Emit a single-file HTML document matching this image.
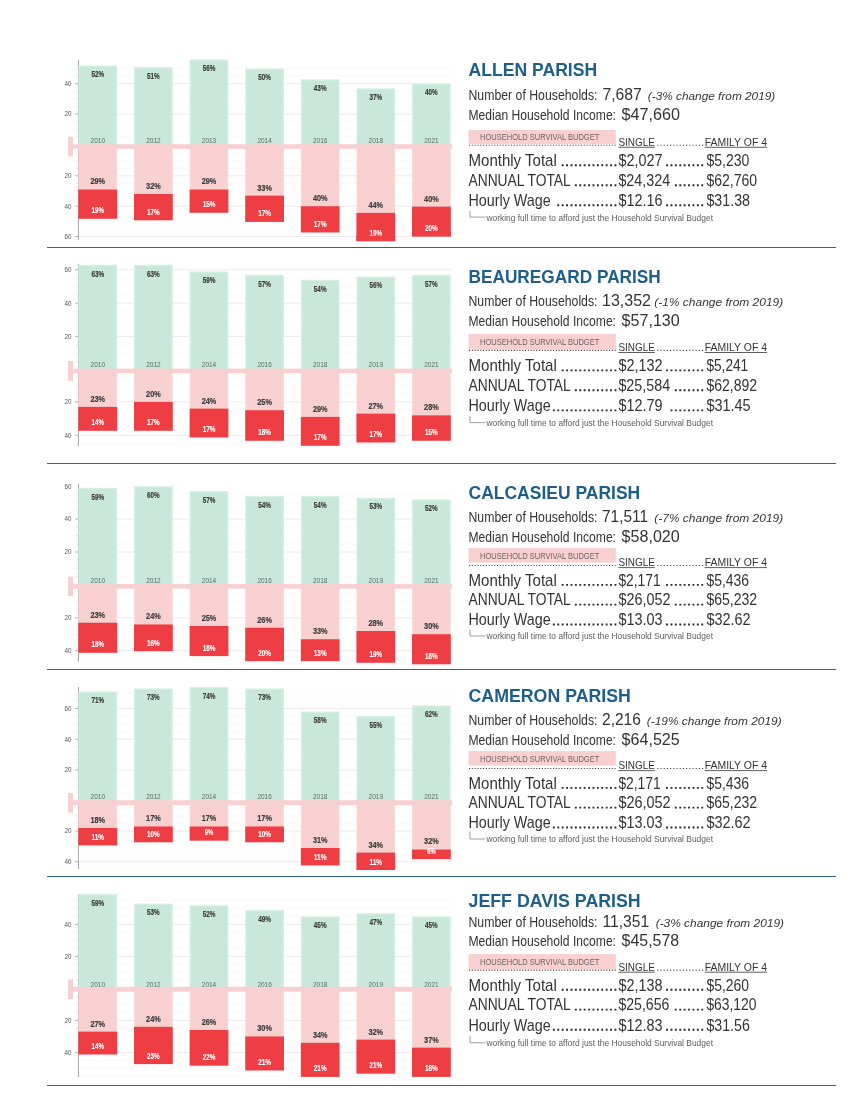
<!DOCTYPE html>
<html><head><meta charset="utf-8"><title>Parish data</title>
<style>
html,body{margin:0;padding:0;background:#fff;}
svg{display:block;font-family:"Liberation Sans",sans-serif;will-change:transform;}
</style></head><body>
<svg width="850" height="1100" viewBox="0 0 850 1100">
<rect width="850" height="1100" fill="#ffffff"/>
<g><clipPath id="c0"><rect x="60" y="58" width="400" height="188"/></clipPath>
<line x1="82.0" y1="136.8" x2="452.0" y2="136.8" stroke="#ececec" stroke-width="1" stroke-dasharray="1 3"/>
<line x1="76.5" y1="136.8" x2="78.0" y2="136.8" stroke="#e0e0e0" stroke-width="1"/>
<line x1="82.0" y1="129.2" x2="452.0" y2="129.2" stroke="#ececec" stroke-width="1" stroke-dasharray="1 3"/>
<line x1="76.5" y1="129.2" x2="78.0" y2="129.2" stroke="#e0e0e0" stroke-width="1"/>
<line x1="82.0" y1="121.6" x2="452.0" y2="121.6" stroke="#ececec" stroke-width="1" stroke-dasharray="1 3"/>
<line x1="76.5" y1="121.6" x2="78.0" y2="121.6" stroke="#e0e0e0" stroke-width="1"/>
<line x1="79.0" y1="114.1" x2="452.0" y2="114.1" stroke="#ececec" stroke-width="1"/>
<line x1="75.0" y1="114.1" x2="78.0" y2="114.1" stroke="#b5b5b5" stroke-width="1"/>
<line x1="82.0" y1="106.5" x2="452.0" y2="106.5" stroke="#ececec" stroke-width="1" stroke-dasharray="1 3"/>
<line x1="76.5" y1="106.5" x2="78.0" y2="106.5" stroke="#e0e0e0" stroke-width="1"/>
<line x1="76.5" y1="98.9" x2="78.0" y2="98.9" stroke="#e0e0e0" stroke-width="1"/>
<line x1="82.0" y1="91.3" x2="452.0" y2="91.3" stroke="#ececec" stroke-width="1" stroke-dasharray="1 3"/>
<line x1="76.5" y1="91.3" x2="78.0" y2="91.3" stroke="#e0e0e0" stroke-width="1"/>
<line x1="79.0" y1="83.7" x2="452.0" y2="83.7" stroke="#ececec" stroke-width="1"/>
<line x1="75.0" y1="83.7" x2="78.0" y2="83.7" stroke="#b5b5b5" stroke-width="1"/>
<line x1="82.0" y1="76.1" x2="452.0" y2="76.1" stroke="#ececec" stroke-width="1" stroke-dasharray="1 3"/>
<line x1="76.5" y1="76.1" x2="78.0" y2="76.1" stroke="#e0e0e0" stroke-width="1"/>
<line x1="82.0" y1="68.5" x2="452.0" y2="68.5" stroke="#ececec" stroke-width="1" stroke-dasharray="1 3"/>
<line x1="76.5" y1="68.5" x2="78.0" y2="68.5" stroke="#e0e0e0" stroke-width="1"/>
<line x1="82.0" y1="153.1" x2="452.0" y2="153.1" stroke="#ececec" stroke-width="1" stroke-dasharray="1 3"/>
<line x1="76.5" y1="153.1" x2="78.0" y2="153.1" stroke="#e0e0e0" stroke-width="1"/>
<line x1="82.0" y1="160.7" x2="452.0" y2="160.7" stroke="#ececec" stroke-width="1" stroke-dasharray="1 3"/>
<line x1="76.5" y1="160.7" x2="78.0" y2="160.7" stroke="#e0e0e0" stroke-width="1"/>
<line x1="82.0" y1="168.3" x2="452.0" y2="168.3" stroke="#ececec" stroke-width="1" stroke-dasharray="1 3"/>
<line x1="76.5" y1="168.3" x2="78.0" y2="168.3" stroke="#e0e0e0" stroke-width="1"/>
<line x1="79.0" y1="175.8" x2="452.0" y2="175.8" stroke="#ececec" stroke-width="1"/>
<line x1="75.0" y1="175.8" x2="78.0" y2="175.8" stroke="#b5b5b5" stroke-width="1"/>
<line x1="82.0" y1="183.4" x2="452.0" y2="183.4" stroke="#ececec" stroke-width="1" stroke-dasharray="1 3"/>
<line x1="76.5" y1="183.4" x2="78.0" y2="183.4" stroke="#e0e0e0" stroke-width="1"/>
<line x1="76.5" y1="191.0" x2="78.0" y2="191.0" stroke="#e0e0e0" stroke-width="1"/>
<line x1="82.0" y1="198.6" x2="452.0" y2="198.6" stroke="#ececec" stroke-width="1" stroke-dasharray="1 3"/>
<line x1="76.5" y1="198.6" x2="78.0" y2="198.6" stroke="#e0e0e0" stroke-width="1"/>
<line x1="79.0" y1="206.2" x2="452.0" y2="206.2" stroke="#ececec" stroke-width="1"/>
<line x1="75.0" y1="206.2" x2="78.0" y2="206.2" stroke="#b5b5b5" stroke-width="1"/>
<line x1="82.0" y1="213.8" x2="452.0" y2="213.8" stroke="#ececec" stroke-width="1" stroke-dasharray="1 3"/>
<line x1="76.5" y1="213.8" x2="78.0" y2="213.8" stroke="#e0e0e0" stroke-width="1"/>
<line x1="82.0" y1="221.3" x2="452.0" y2="221.3" stroke="#ececec" stroke-width="1" stroke-dasharray="1 3"/>
<line x1="76.5" y1="221.3" x2="78.0" y2="221.3" stroke="#e0e0e0" stroke-width="1"/>
<line x1="82.0" y1="228.9" x2="452.0" y2="228.9" stroke="#ececec" stroke-width="1" stroke-dasharray="1 3"/>
<line x1="76.5" y1="228.9" x2="78.0" y2="228.9" stroke="#e0e0e0" stroke-width="1"/>
<line x1="79.0" y1="236.5" x2="452.0" y2="236.5" stroke="#ececec" stroke-width="1"/>
<line x1="75.0" y1="236.5" x2="78.0" y2="236.5" stroke="#b5b5b5" stroke-width="1"/>
<line x1="78.5" y1="60.0" x2="78.5" y2="240.0" stroke="#a8a8a8" stroke-width="1"/>
<g clip-path="url(#c0)">
<rect x="78.4" y="65.5" width="38.8" height="80.7" fill="#d4f0e5"/>
<rect x="79.7" y="66.8" width="36.2" height="79.7" fill="#c9e7db"/>
<rect x="78.4" y="145.2" width="38.8" height="44.3" fill="#fad9d9"/>
<rect x="79.6" y="145.2" width="36.4" height="44.3" fill="#f8d0d0"/>
<rect x="78.4" y="189.5" width="38.8" height="29.3" fill="#ee3e44"/>
<text x="97.8" y="77.2" font-size="8.4" fill="#3c3c3c" font-weight="bold" text-anchor="middle" textLength="12.7" lengthAdjust="spacingAndGlyphs" stroke="#3c3c3c" stroke-width="0.2">52%</text>
<text x="97.8" y="184.4" font-size="9.1" fill="#3c3c3c" font-weight="bold" text-anchor="middle" textLength="14.6" lengthAdjust="spacingAndGlyphs" stroke="#3c3c3c" stroke-width="0.2">29%</text>
<text x="97.8" y="213.3" font-size="8.4" fill="#ffffff" font-weight="bold" text-anchor="middle" textLength="12.7" lengthAdjust="spacingAndGlyphs" stroke="#ffffff" stroke-width="0.12">19%</text>
<text x="97.8" y="143.4" font-size="7" fill="#5a6a64" text-anchor="middle" textLength="14.4" lengthAdjust="spacingAndGlyphs">2010</text>
<rect x="134.0" y="67.0" width="38.8" height="79.2" fill="#d4f0e5"/>
<rect x="135.3" y="68.3" width="36.2" height="78.2" fill="#c9e7db"/>
<rect x="134.0" y="145.2" width="38.8" height="48.8" fill="#fad9d9"/>
<rect x="135.2" y="145.2" width="36.4" height="48.8" fill="#f8d0d0"/>
<rect x="134.0" y="194.0" width="38.8" height="26.3" fill="#ee3e44"/>
<text x="153.4" y="78.7" font-size="8.4" fill="#3c3c3c" font-weight="bold" text-anchor="middle" textLength="12.7" lengthAdjust="spacingAndGlyphs" stroke="#3c3c3c" stroke-width="0.2">51%</text>
<text x="153.4" y="188.9" font-size="9.1" fill="#3c3c3c" font-weight="bold" text-anchor="middle" textLength="14.6" lengthAdjust="spacingAndGlyphs" stroke="#3c3c3c" stroke-width="0.2">32%</text>
<text x="153.4" y="214.8" font-size="8.4" fill="#ffffff" font-weight="bold" text-anchor="middle" textLength="12.7" lengthAdjust="spacingAndGlyphs" stroke="#ffffff" stroke-width="0.12">17%</text>
<text x="153.4" y="143.4" font-size="7" fill="#5a6a64" text-anchor="middle" textLength="14.4" lengthAdjust="spacingAndGlyphs">2012</text>
<rect x="189.6" y="59.4" width="38.8" height="86.8" fill="#d4f0e5"/>
<rect x="190.9" y="60.7" width="36.2" height="85.8" fill="#c9e7db"/>
<rect x="189.6" y="145.2" width="38.8" height="44.3" fill="#fad9d9"/>
<rect x="190.8" y="145.2" width="36.4" height="44.3" fill="#f8d0d0"/>
<rect x="189.6" y="189.5" width="38.8" height="23.3" fill="#ee3e44"/>
<text x="209.0" y="71.1" font-size="8.4" fill="#3c3c3c" font-weight="bold" text-anchor="middle" textLength="12.7" lengthAdjust="spacingAndGlyphs" stroke="#3c3c3c" stroke-width="0.2">56%</text>
<text x="209.0" y="184.4" font-size="9.1" fill="#3c3c3c" font-weight="bold" text-anchor="middle" textLength="14.6" lengthAdjust="spacingAndGlyphs" stroke="#3c3c3c" stroke-width="0.2">29%</text>
<text x="209.0" y="207.2" font-size="8.4" fill="#ffffff" font-weight="bold" text-anchor="middle" textLength="12.7" lengthAdjust="spacingAndGlyphs" stroke="#ffffff" stroke-width="0.12">15%</text>
<text x="209.0" y="143.4" font-size="7" fill="#5a6a64" text-anchor="middle" textLength="14.4" lengthAdjust="spacingAndGlyphs">2013</text>
<rect x="245.2" y="68.5" width="38.8" height="77.6" fill="#d4f0e5"/>
<rect x="246.5" y="69.8" width="36.2" height="76.6" fill="#c9e7db"/>
<rect x="245.2" y="145.2" width="38.8" height="50.4" fill="#fad9d9"/>
<rect x="246.4" y="145.2" width="36.4" height="50.4" fill="#f8d0d0"/>
<rect x="245.2" y="195.6" width="38.8" height="26.3" fill="#ee3e44"/>
<text x="264.6" y="80.2" font-size="8.4" fill="#3c3c3c" font-weight="bold" text-anchor="middle" textLength="12.7" lengthAdjust="spacingAndGlyphs" stroke="#3c3c3c" stroke-width="0.2">50%</text>
<text x="264.6" y="190.5" font-size="9.1" fill="#3c3c3c" font-weight="bold" text-anchor="middle" textLength="14.6" lengthAdjust="spacingAndGlyphs" stroke="#3c3c3c" stroke-width="0.2">33%</text>
<text x="264.6" y="216.3" font-size="8.4" fill="#ffffff" font-weight="bold" text-anchor="middle" textLength="12.7" lengthAdjust="spacingAndGlyphs" stroke="#ffffff" stroke-width="0.12">17%</text>
<text x="264.6" y="143.4" font-size="7" fill="#5a6a64" text-anchor="middle" textLength="14.4" lengthAdjust="spacingAndGlyphs">2014</text>
<rect x="300.8" y="79.2" width="38.8" height="67.0" fill="#d4f0e5"/>
<rect x="302.1" y="80.5" width="36.2" height="66.0" fill="#c9e7db"/>
<rect x="300.8" y="145.2" width="38.8" height="61.0" fill="#fad9d9"/>
<rect x="302.0" y="145.2" width="36.4" height="61.0" fill="#f8d0d0"/>
<rect x="300.8" y="206.2" width="38.8" height="26.3" fill="#ee3e44"/>
<text x="320.2" y="90.9" font-size="8.4" fill="#3c3c3c" font-weight="bold" text-anchor="middle" textLength="12.7" lengthAdjust="spacingAndGlyphs" stroke="#3c3c3c" stroke-width="0.2">43%</text>
<text x="320.2" y="201.1" font-size="9.1" fill="#3c3c3c" font-weight="bold" text-anchor="middle" textLength="14.6" lengthAdjust="spacingAndGlyphs" stroke="#3c3c3c" stroke-width="0.2">40%</text>
<text x="320.2" y="227.0" font-size="8.4" fill="#ffffff" font-weight="bold" text-anchor="middle" textLength="12.7" lengthAdjust="spacingAndGlyphs" stroke="#ffffff" stroke-width="0.12">17%</text>
<text x="320.2" y="143.4" font-size="7" fill="#5a6a64" text-anchor="middle" textLength="14.4" lengthAdjust="spacingAndGlyphs">2016</text>
<rect x="356.4" y="88.3" width="38.8" height="57.9" fill="#d4f0e5"/>
<rect x="357.7" y="89.6" width="36.2" height="56.9" fill="#c9e7db"/>
<rect x="356.4" y="145.2" width="38.8" height="67.7" fill="#fad9d9"/>
<rect x="357.6" y="145.2" width="36.4" height="67.7" fill="#f8d0d0"/>
<rect x="356.4" y="212.9" width="38.8" height="28.3" fill="#ee3e44"/>
<text x="375.8" y="100.0" font-size="8.4" fill="#3c3c3c" font-weight="bold" text-anchor="middle" textLength="12.7" lengthAdjust="spacingAndGlyphs" stroke="#3c3c3c" stroke-width="0.2">37%</text>
<text x="375.8" y="207.8" font-size="9.1" fill="#3c3c3c" font-weight="bold" text-anchor="middle" textLength="14.6" lengthAdjust="spacingAndGlyphs" stroke="#3c3c3c" stroke-width="0.2">44%</text>
<text x="375.8" y="235.6" font-size="8.4" fill="#ffffff" font-weight="bold" text-anchor="middle" textLength="12.7" lengthAdjust="spacingAndGlyphs" stroke="#ffffff" stroke-width="0.12">19%</text>
<rect x="356.4" y="235.8" width="38.8" height="5.3" fill="#ee3e44"/>
<text x="375.8" y="143.4" font-size="7" fill="#5a6a64" text-anchor="middle" textLength="14.4" lengthAdjust="spacingAndGlyphs">2018</text>
<rect x="412.0" y="83.7" width="38.8" height="62.5" fill="#d4f0e5"/>
<rect x="413.3" y="85.0" width="36.2" height="61.5" fill="#c9e7db"/>
<rect x="412.0" y="145.2" width="38.8" height="61.4" fill="#fad9d9"/>
<rect x="413.2" y="145.2" width="36.4" height="61.4" fill="#f8d0d0"/>
<rect x="412.0" y="206.6" width="38.8" height="29.8" fill="#ee3e44"/>
<text x="431.4" y="95.4" font-size="8.4" fill="#3c3c3c" font-weight="bold" text-anchor="middle" textLength="12.7" lengthAdjust="spacingAndGlyphs" stroke="#3c3c3c" stroke-width="0.2">40%</text>
<text x="431.4" y="201.5" font-size="9.1" fill="#3c3c3c" font-weight="bold" text-anchor="middle" textLength="14.6" lengthAdjust="spacingAndGlyphs" stroke="#3c3c3c" stroke-width="0.2">40%</text>
<text x="431.4" y="230.6" font-size="8.4" fill="#ffffff" font-weight="bold" text-anchor="middle" textLength="12.7" lengthAdjust="spacingAndGlyphs" stroke="#ffffff" stroke-width="0.12">20%</text>
<rect x="412.0" y="231.0" width="38.8" height="5.4" fill="#ee3e44"/>
<text x="431.4" y="143.4" font-size="7" fill="#5a6a64" text-anchor="middle" textLength="14.4" lengthAdjust="spacingAndGlyphs">2021</text>
</g>
<rect x="73.0" y="144.2" width="379.0" height="4.6" fill="#f8d0d0"/>
<rect x="68.0" y="136.7" width="5.0" height="19.6" fill="#f8d0d0"/>
<text x="71.5" y="86.0" font-size="6.6" fill="#555" text-anchor="end" textLength="7.0" lengthAdjust="spacingAndGlyphs">40</text>
<text x="71.5" y="116.4" font-size="6.6" fill="#555" text-anchor="end" textLength="7.0" lengthAdjust="spacingAndGlyphs">20</text>
<text x="71.5" y="178.1" font-size="6.6" fill="#555" text-anchor="end" textLength="7.0" lengthAdjust="spacingAndGlyphs">20</text>
<text x="71.5" y="208.5" font-size="6.6" fill="#555" text-anchor="end" textLength="7.0" lengthAdjust="spacingAndGlyphs">40</text>
<text x="71.5" y="238.8" font-size="6.6" fill="#555" text-anchor="end" textLength="7.0" lengthAdjust="spacingAndGlyphs">60</text>
</g>
<line x1="47.0" y1="247.5" x2="836.0" y2="247.5" stroke="#2a6590" stroke-width="1"/>
<text x="468.5" y="76.4" font-size="18.4" fill="#1d5e8a" font-weight="bold" textLength="128.7" lengthAdjust="spacingAndGlyphs">ALLEN PARISH</text>
<text x="468.5" y="99.8" font-size="14.4" fill="#333333" textLength="129.0" lengthAdjust="spacingAndGlyphs">Number of Households:</text>
<text x="602.4" y="99.8" font-size="17" fill="#333333" textLength="39.5" lengthAdjust="spacingAndGlyphs">7,687</text>
<text x="647.8" y="99.8" font-size="11.8" fill="#333333" font-style="italic" textLength="127.5" lengthAdjust="spacingAndGlyphs">(-3% change from 2019)</text>
<text x="468.5" y="119.5" font-size="14.4" fill="#333333" textLength="147.5" lengthAdjust="spacingAndGlyphs">Median Household Income:</text>
<text x="621.6" y="119.5" font-size="17" fill="#333333" textLength="58.4" lengthAdjust="spacingAndGlyphs">$47,660</text>
<rect x="468.5" y="130.0" width="147.3" height="14.2" fill="#f8d0d0"/>
<text x="480.0" y="139.6" font-size="8.2" fill="#6e6263" textLength="119.3" lengthAdjust="spacingAndGlyphs">HOUSEHOLD SURVIVAL BUDGET</text>
<line x1="469.0" y1="145.2" x2="617.0" y2="145.2" stroke="#444" stroke-width="1.1" stroke-dasharray="1.1 1.7"/>
<text x="618.4" y="145.7" font-size="11.8" fill="#333333" textLength="36.4" lengthAdjust="spacingAndGlyphs">SINGLE</text>
<line x1="618.4" y1="147.3" x2="654.8" y2="147.3" stroke="#333333" stroke-width="0.8"/>
<line x1="657.3" y1="145.2" x2="704.0" y2="145.2" stroke="#444" stroke-width="1.1" stroke-dasharray="1.1 2.1"/>
<text x="704.7" y="145.7" font-size="11.8" fill="#333333" textLength="62.3" lengthAdjust="spacingAndGlyphs">FAMILY OF 4</text>
<line x1="704.7" y1="147.3" x2="767.0" y2="147.3" stroke="#333333" stroke-width="0.8"/>
<text x="468.5" y="166.1" font-size="16.4" fill="#333333" textLength="88.3" lengthAdjust="spacingAndGlyphs">Monthly Total</text>
<text x="618.4" y="166.1" font-size="16.4" fill="#333333" textLength="44.0" lengthAdjust="spacingAndGlyphs">$2,027</text>
<text x="706.4" y="166.1" font-size="16.4" fill="#333333" textLength="43.0" lengthAdjust="spacingAndGlyphs">$5,230</text>
<line x1="561.7" y1="165.3" x2="616.4" y2="165.3" stroke="#2b2b2b" stroke-width="1.9" stroke-dasharray="1.9 2.50"/>
<line x1="666.1" y1="165.3" x2="703.2" y2="165.3" stroke="#2b2b2b" stroke-width="1.9" stroke-dasharray="1.9 2.50"/>
<text x="468.5" y="186.1" font-size="16.4" fill="#333333" textLength="102.2" lengthAdjust="spacingAndGlyphs">ANNUAL TOTAL</text>
<text x="618.4" y="186.1" font-size="16.4" fill="#333333" textLength="51.7" lengthAdjust="spacingAndGlyphs">$24,324</text>
<text x="706.4" y="186.1" font-size="16.4" fill="#333333" textLength="50.8" lengthAdjust="spacingAndGlyphs">$62,760</text>
<line x1="574.9" y1="185.3" x2="616.4" y2="185.3" stroke="#2b2b2b" stroke-width="1.9" stroke-dasharray="1.9 2.50"/>
<line x1="674.9" y1="185.3" x2="703.2" y2="185.3" stroke="#2b2b2b" stroke-width="1.9" stroke-dasharray="1.9 2.50"/>
<text x="468.5" y="205.9" font-size="16.4" fill="#333333" textLength="82.2" lengthAdjust="spacingAndGlyphs">Hourly Wage</text>
<text x="618.4" y="205.9" font-size="16.4" fill="#333333" textLength="44.0" lengthAdjust="spacingAndGlyphs">$12.16</text>
<text x="706.4" y="205.9" font-size="16.4" fill="#333333" textLength="43.6" lengthAdjust="spacingAndGlyphs">$31.38</text>
<line x1="557.3" y1="205.2" x2="616.4" y2="205.2" stroke="#2b2b2b" stroke-width="1.9" stroke-dasharray="1.9 2.50"/>
<line x1="666.1" y1="205.2" x2="703.2" y2="205.2" stroke="#2b2b2b" stroke-width="1.9" stroke-dasharray="1.9 2.50"/>
<path d="M470 210.7V217.1H485.4" fill="none" stroke="#777" stroke-width="0.7"/>
<text x="486.4" y="220.6" font-size="8.2" fill="#5c5c5c" textLength="226.6" lengthAdjust="spacingAndGlyphs">working full time to afford just the Household Survival Budget</text>
<g><clipPath id="c1"><rect x="60" y="262" width="400" height="190"/></clipPath>
<line x1="82.0" y1="361.6" x2="452.0" y2="361.6" stroke="#ececec" stroke-width="1" stroke-dasharray="1 3"/>
<line x1="76.5" y1="361.6" x2="78.0" y2="361.6" stroke="#e0e0e0" stroke-width="1"/>
<line x1="82.0" y1="353.3" x2="452.0" y2="353.3" stroke="#ececec" stroke-width="1" stroke-dasharray="1 3"/>
<line x1="76.5" y1="353.3" x2="78.0" y2="353.3" stroke="#e0e0e0" stroke-width="1"/>
<line x1="82.0" y1="344.9" x2="452.0" y2="344.9" stroke="#ececec" stroke-width="1" stroke-dasharray="1 3"/>
<line x1="76.5" y1="344.9" x2="78.0" y2="344.9" stroke="#e0e0e0" stroke-width="1"/>
<line x1="79.0" y1="336.6" x2="452.0" y2="336.6" stroke="#ececec" stroke-width="1"/>
<line x1="75.0" y1="336.6" x2="78.0" y2="336.6" stroke="#b5b5b5" stroke-width="1"/>
<line x1="82.0" y1="328.2" x2="452.0" y2="328.2" stroke="#ececec" stroke-width="1" stroke-dasharray="1 3"/>
<line x1="76.5" y1="328.2" x2="78.0" y2="328.2" stroke="#e0e0e0" stroke-width="1"/>
<line x1="76.5" y1="319.9" x2="78.0" y2="319.9" stroke="#e0e0e0" stroke-width="1"/>
<line x1="82.0" y1="311.6" x2="452.0" y2="311.6" stroke="#ececec" stroke-width="1" stroke-dasharray="1 3"/>
<line x1="76.5" y1="311.6" x2="78.0" y2="311.6" stroke="#e0e0e0" stroke-width="1"/>
<line x1="79.0" y1="303.2" x2="452.0" y2="303.2" stroke="#ececec" stroke-width="1"/>
<line x1="75.0" y1="303.2" x2="78.0" y2="303.2" stroke="#b5b5b5" stroke-width="1"/>
<line x1="82.0" y1="294.9" x2="452.0" y2="294.9" stroke="#ececec" stroke-width="1" stroke-dasharray="1 3"/>
<line x1="76.5" y1="294.9" x2="78.0" y2="294.9" stroke="#e0e0e0" stroke-width="1"/>
<line x1="82.0" y1="286.5" x2="452.0" y2="286.5" stroke="#ececec" stroke-width="1" stroke-dasharray="1 3"/>
<line x1="76.5" y1="286.5" x2="78.0" y2="286.5" stroke="#e0e0e0" stroke-width="1"/>
<line x1="82.0" y1="278.2" x2="452.0" y2="278.2" stroke="#ececec" stroke-width="1" stroke-dasharray="1 3"/>
<line x1="76.5" y1="278.2" x2="78.0" y2="278.2" stroke="#e0e0e0" stroke-width="1"/>
<line x1="79.0" y1="269.8" x2="452.0" y2="269.8" stroke="#ececec" stroke-width="1"/>
<line x1="75.0" y1="269.8" x2="78.0" y2="269.8" stroke="#b5b5b5" stroke-width="1"/>
<line x1="82.0" y1="376.9" x2="452.0" y2="376.9" stroke="#ececec" stroke-width="1" stroke-dasharray="1 3"/>
<line x1="76.5" y1="376.9" x2="78.0" y2="376.9" stroke="#e0e0e0" stroke-width="1"/>
<line x1="82.0" y1="385.2" x2="452.0" y2="385.2" stroke="#ececec" stroke-width="1" stroke-dasharray="1 3"/>
<line x1="76.5" y1="385.2" x2="78.0" y2="385.2" stroke="#e0e0e0" stroke-width="1"/>
<line x1="82.0" y1="393.6" x2="452.0" y2="393.6" stroke="#ececec" stroke-width="1" stroke-dasharray="1 3"/>
<line x1="76.5" y1="393.6" x2="78.0" y2="393.6" stroke="#e0e0e0" stroke-width="1"/>
<line x1="79.0" y1="401.9" x2="452.0" y2="401.9" stroke="#ececec" stroke-width="1"/>
<line x1="75.0" y1="401.9" x2="78.0" y2="401.9" stroke="#b5b5b5" stroke-width="1"/>
<line x1="82.0" y1="410.2" x2="452.0" y2="410.2" stroke="#ececec" stroke-width="1" stroke-dasharray="1 3"/>
<line x1="76.5" y1="410.2" x2="78.0" y2="410.2" stroke="#e0e0e0" stroke-width="1"/>
<line x1="76.5" y1="418.6" x2="78.0" y2="418.6" stroke="#e0e0e0" stroke-width="1"/>
<line x1="82.0" y1="426.9" x2="452.0" y2="426.9" stroke="#ececec" stroke-width="1" stroke-dasharray="1 3"/>
<line x1="76.5" y1="426.9" x2="78.0" y2="426.9" stroke="#e0e0e0" stroke-width="1"/>
<line x1="79.0" y1="435.3" x2="452.0" y2="435.3" stroke="#ececec" stroke-width="1"/>
<line x1="75.0" y1="435.3" x2="78.0" y2="435.3" stroke="#b5b5b5" stroke-width="1"/>
<line x1="82.0" y1="443.6" x2="452.0" y2="443.6" stroke="#ececec" stroke-width="1" stroke-dasharray="1 3"/>
<line x1="76.5" y1="443.6" x2="78.0" y2="443.6" stroke="#e0e0e0" stroke-width="1"/>
<line x1="78.5" y1="264.0" x2="78.5" y2="446.0" stroke="#a8a8a8" stroke-width="1"/>
<g clip-path="url(#c1)">
<rect x="78.4" y="264.8" width="38.8" height="105.5" fill="#d4f0e5"/>
<rect x="79.7" y="266.1" width="36.2" height="104.5" fill="#c9e7db"/>
<rect x="78.4" y="369.3" width="38.8" height="37.6" fill="#fad9d9"/>
<rect x="79.6" y="369.3" width="36.4" height="37.6" fill="#f8d0d0"/>
<rect x="78.4" y="406.9" width="38.8" height="23.9" fill="#ee3e44"/>
<text x="97.8" y="276.5" font-size="8.4" fill="#3c3c3c" font-weight="bold" text-anchor="middle" textLength="12.7" lengthAdjust="spacingAndGlyphs" stroke="#3c3c3c" stroke-width="0.2">63%</text>
<text x="97.8" y="401.8" font-size="9.1" fill="#3c3c3c" font-weight="bold" text-anchor="middle" textLength="14.6" lengthAdjust="spacingAndGlyphs" stroke="#3c3c3c" stroke-width="0.2">23%</text>
<text x="97.8" y="425.3" font-size="8.4" fill="#ffffff" font-weight="bold" text-anchor="middle" textLength="12.7" lengthAdjust="spacingAndGlyphs" stroke="#ffffff" stroke-width="0.12">14%</text>
<text x="97.8" y="366.8" font-size="7" fill="#5a6a64" text-anchor="middle" textLength="14.4" lengthAdjust="spacingAndGlyphs">2010</text>
<rect x="134.0" y="264.8" width="38.8" height="105.5" fill="#d4f0e5"/>
<rect x="135.3" y="266.1" width="36.2" height="104.5" fill="#c9e7db"/>
<rect x="134.0" y="369.3" width="38.8" height="32.6" fill="#fad9d9"/>
<rect x="135.2" y="369.3" width="36.4" height="32.6" fill="#f8d0d0"/>
<rect x="134.0" y="401.9" width="38.8" height="28.9" fill="#ee3e44"/>
<text x="153.4" y="276.5" font-size="8.4" fill="#3c3c3c" font-weight="bold" text-anchor="middle" textLength="12.7" lengthAdjust="spacingAndGlyphs" stroke="#3c3c3c" stroke-width="0.2">63%</text>
<text x="153.4" y="396.8" font-size="9.1" fill="#3c3c3c" font-weight="bold" text-anchor="middle" textLength="14.6" lengthAdjust="spacingAndGlyphs" stroke="#3c3c3c" stroke-width="0.2">20%</text>
<text x="153.4" y="425.3" font-size="8.4" fill="#ffffff" font-weight="bold" text-anchor="middle" textLength="12.7" lengthAdjust="spacingAndGlyphs" stroke="#ffffff" stroke-width="0.12">17%</text>
<text x="153.4" y="366.8" font-size="7" fill="#5a6a64" text-anchor="middle" textLength="14.4" lengthAdjust="spacingAndGlyphs">2012</text>
<rect x="189.6" y="271.5" width="38.8" height="98.8" fill="#d4f0e5"/>
<rect x="190.9" y="272.8" width="36.2" height="97.8" fill="#c9e7db"/>
<rect x="189.6" y="369.3" width="38.8" height="39.3" fill="#fad9d9"/>
<rect x="190.8" y="369.3" width="36.4" height="39.3" fill="#f8d0d0"/>
<rect x="189.6" y="408.6" width="38.8" height="28.9" fill="#ee3e44"/>
<text x="209.0" y="283.2" font-size="8.4" fill="#3c3c3c" font-weight="bold" text-anchor="middle" textLength="12.7" lengthAdjust="spacingAndGlyphs" stroke="#3c3c3c" stroke-width="0.2">59%</text>
<text x="209.0" y="403.5" font-size="9.1" fill="#3c3c3c" font-weight="bold" text-anchor="middle" textLength="14.6" lengthAdjust="spacingAndGlyphs" stroke="#3c3c3c" stroke-width="0.2">24%</text>
<text x="209.0" y="432.0" font-size="8.4" fill="#ffffff" font-weight="bold" text-anchor="middle" textLength="12.7" lengthAdjust="spacingAndGlyphs" stroke="#ffffff" stroke-width="0.12">17%</text>
<text x="209.0" y="366.8" font-size="7" fill="#5a6a64" text-anchor="middle" textLength="14.4" lengthAdjust="spacingAndGlyphs">2014</text>
<rect x="245.2" y="274.8" width="38.8" height="95.5" fill="#d4f0e5"/>
<rect x="246.5" y="276.1" width="36.2" height="94.5" fill="#c9e7db"/>
<rect x="245.2" y="369.3" width="38.8" height="41.0" fill="#fad9d9"/>
<rect x="246.4" y="369.3" width="36.4" height="41.0" fill="#f8d0d0"/>
<rect x="245.2" y="410.2" width="38.8" height="30.6" fill="#ee3e44"/>
<text x="264.6" y="286.5" font-size="8.4" fill="#3c3c3c" font-weight="bold" text-anchor="middle" textLength="12.7" lengthAdjust="spacingAndGlyphs" stroke="#3c3c3c" stroke-width="0.2">57%</text>
<text x="264.6" y="405.1" font-size="9.1" fill="#3c3c3c" font-weight="bold" text-anchor="middle" textLength="14.6" lengthAdjust="spacingAndGlyphs" stroke="#3c3c3c" stroke-width="0.2">25%</text>
<text x="264.6" y="435.3" font-size="8.4" fill="#ffffff" font-weight="bold" text-anchor="middle" textLength="12.7" lengthAdjust="spacingAndGlyphs" stroke="#ffffff" stroke-width="0.12">18%</text>
<text x="264.6" y="366.8" font-size="7" fill="#5a6a64" text-anchor="middle" textLength="14.4" lengthAdjust="spacingAndGlyphs">2016</text>
<rect x="300.8" y="279.8" width="38.8" height="90.5" fill="#d4f0e5"/>
<rect x="302.1" y="281.1" width="36.2" height="89.5" fill="#c9e7db"/>
<rect x="300.8" y="369.3" width="38.8" height="47.6" fill="#fad9d9"/>
<rect x="302.0" y="369.3" width="36.4" height="47.6" fill="#f8d0d0"/>
<rect x="300.8" y="416.9" width="38.8" height="28.9" fill="#ee3e44"/>
<text x="320.2" y="291.5" font-size="8.4" fill="#3c3c3c" font-weight="bold" text-anchor="middle" textLength="12.7" lengthAdjust="spacingAndGlyphs" stroke="#3c3c3c" stroke-width="0.2">54%</text>
<text x="320.2" y="411.8" font-size="9.1" fill="#3c3c3c" font-weight="bold" text-anchor="middle" textLength="14.6" lengthAdjust="spacingAndGlyphs" stroke="#3c3c3c" stroke-width="0.2">29%</text>
<text x="320.2" y="440.3" font-size="8.4" fill="#ffffff" font-weight="bold" text-anchor="middle" textLength="12.7" lengthAdjust="spacingAndGlyphs" stroke="#ffffff" stroke-width="0.12">17%</text>
<text x="320.2" y="366.8" font-size="7" fill="#5a6a64" text-anchor="middle" textLength="14.4" lengthAdjust="spacingAndGlyphs">2018</text>
<rect x="356.4" y="276.5" width="38.8" height="93.8" fill="#d4f0e5"/>
<rect x="357.7" y="277.8" width="36.2" height="92.8" fill="#c9e7db"/>
<rect x="356.4" y="369.3" width="38.8" height="44.3" fill="#fad9d9"/>
<rect x="357.6" y="369.3" width="36.4" height="44.3" fill="#f8d0d0"/>
<rect x="356.4" y="413.6" width="38.8" height="28.9" fill="#ee3e44"/>
<text x="375.8" y="288.2" font-size="8.4" fill="#3c3c3c" font-weight="bold" text-anchor="middle" textLength="12.7" lengthAdjust="spacingAndGlyphs" stroke="#3c3c3c" stroke-width="0.2">56%</text>
<text x="375.8" y="408.5" font-size="9.1" fill="#3c3c3c" font-weight="bold" text-anchor="middle" textLength="14.6" lengthAdjust="spacingAndGlyphs" stroke="#3c3c3c" stroke-width="0.2">27%</text>
<text x="375.8" y="437.0" font-size="8.4" fill="#ffffff" font-weight="bold" text-anchor="middle" textLength="12.7" lengthAdjust="spacingAndGlyphs" stroke="#ffffff" stroke-width="0.12">17%</text>
<text x="375.8" y="366.8" font-size="7" fill="#5a6a64" text-anchor="middle" textLength="14.4" lengthAdjust="spacingAndGlyphs">2019</text>
<rect x="412.0" y="274.8" width="38.8" height="95.5" fill="#d4f0e5"/>
<rect x="413.3" y="276.1" width="36.2" height="94.5" fill="#c9e7db"/>
<rect x="412.0" y="369.3" width="38.8" height="46.0" fill="#fad9d9"/>
<rect x="413.2" y="369.3" width="36.4" height="46.0" fill="#f8d0d0"/>
<rect x="412.0" y="415.3" width="38.8" height="25.5" fill="#ee3e44"/>
<text x="431.4" y="286.5" font-size="8.4" fill="#3c3c3c" font-weight="bold" text-anchor="middle" textLength="12.7" lengthAdjust="spacingAndGlyphs" stroke="#3c3c3c" stroke-width="0.2">57%</text>
<text x="431.4" y="410.2" font-size="9.1" fill="#3c3c3c" font-weight="bold" text-anchor="middle" textLength="14.6" lengthAdjust="spacingAndGlyphs" stroke="#3c3c3c" stroke-width="0.2">28%</text>
<text x="431.4" y="435.3" font-size="8.4" fill="#ffffff" font-weight="bold" text-anchor="middle" textLength="12.7" lengthAdjust="spacingAndGlyphs" stroke="#ffffff" stroke-width="0.12">15%</text>
<text x="431.4" y="366.8" font-size="7" fill="#5a6a64" text-anchor="middle" textLength="14.4" lengthAdjust="spacingAndGlyphs">2021</text>
</g>
<rect x="73.0" y="368.6" width="379.0" height="4.5" fill="#f8d0d0"/>
<rect x="68.0" y="361.1" width="5.0" height="19.6" fill="#f8d0d0"/>
<text x="71.5" y="272.1" font-size="6.6" fill="#555" text-anchor="end" textLength="7.0" lengthAdjust="spacingAndGlyphs">60</text>
<text x="71.5" y="305.5" font-size="6.6" fill="#555" text-anchor="end" textLength="7.0" lengthAdjust="spacingAndGlyphs">40</text>
<text x="71.5" y="338.9" font-size="6.6" fill="#555" text-anchor="end" textLength="7.0" lengthAdjust="spacingAndGlyphs">20</text>
<text x="71.5" y="404.2" font-size="6.6" fill="#555" text-anchor="end" textLength="7.0" lengthAdjust="spacingAndGlyphs">20</text>
<text x="71.5" y="437.6" font-size="6.6" fill="#555" text-anchor="end" textLength="7.0" lengthAdjust="spacingAndGlyphs">40</text>
</g>
<line x1="47.0" y1="463.5" x2="836.0" y2="463.5" stroke="#2a6590" stroke-width="1"/>
<text x="468.5" y="283.4" font-size="18.4" fill="#1d5e8a" font-weight="bold" textLength="192.3" lengthAdjust="spacingAndGlyphs">BEAUREGARD PARISH</text>
<text x="468.5" y="305.6" font-size="14.4" fill="#333333" textLength="129.0" lengthAdjust="spacingAndGlyphs">Number of Households:</text>
<text x="602.0" y="305.6" font-size="17" fill="#333333" textLength="49.0" lengthAdjust="spacingAndGlyphs">13,352</text>
<text x="654.3" y="305.6" font-size="11.8" fill="#333333" font-style="italic" textLength="128.9" lengthAdjust="spacingAndGlyphs">(-1% change from 2019)</text>
<text x="468.5" y="325.5" font-size="14.4" fill="#333333" textLength="147.5" lengthAdjust="spacingAndGlyphs">Median Household Income:</text>
<text x="621.6" y="325.5" font-size="17" fill="#333333" textLength="58.1" lengthAdjust="spacingAndGlyphs">$57,130</text>
<rect x="468.5" y="333.9" width="147.3" height="15.7" fill="#f8d0d0"/>
<text x="480.0" y="344.6" font-size="8.2" fill="#6e6263" textLength="119.3" lengthAdjust="spacingAndGlyphs">HOUSEHOLD SURVIVAL BUDGET</text>
<line x1="469.0" y1="350.4" x2="617.0" y2="350.4" stroke="#444" stroke-width="1.1" stroke-dasharray="1.1 1.7"/>
<text x="618.4" y="350.9" font-size="11.8" fill="#333333" textLength="36.4" lengthAdjust="spacingAndGlyphs">SINGLE</text>
<line x1="618.4" y1="352.5" x2="654.8" y2="352.5" stroke="#333333" stroke-width="0.8"/>
<line x1="657.3" y1="350.4" x2="704.0" y2="350.4" stroke="#444" stroke-width="1.1" stroke-dasharray="1.1 2.1"/>
<text x="704.7" y="350.9" font-size="11.8" fill="#333333" textLength="62.3" lengthAdjust="spacingAndGlyphs">FAMILY OF 4</text>
<line x1="704.7" y1="352.5" x2="767.0" y2="352.5" stroke="#333333" stroke-width="0.8"/>
<text x="468.5" y="371.1" font-size="16.4" fill="#333333" textLength="88.3" lengthAdjust="spacingAndGlyphs">Monthly Total</text>
<text x="618.4" y="371.1" font-size="16.4" fill="#333333" textLength="44.0" lengthAdjust="spacingAndGlyphs">$2,132</text>
<text x="706.4" y="371.1" font-size="16.4" fill="#333333" textLength="41.8" lengthAdjust="spacingAndGlyphs">$5,241</text>
<line x1="561.7" y1="370.4" x2="616.4" y2="370.4" stroke="#2b2b2b" stroke-width="1.9" stroke-dasharray="1.9 2.50"/>
<line x1="666.1" y1="370.4" x2="703.2" y2="370.4" stroke="#2b2b2b" stroke-width="1.9" stroke-dasharray="1.9 2.50"/>
<text x="468.5" y="391.0" font-size="16.4" fill="#333333" textLength="102.2" lengthAdjust="spacingAndGlyphs">ANNUAL TOTAL</text>
<text x="618.4" y="391.0" font-size="16.4" fill="#333333" textLength="51.7" lengthAdjust="spacingAndGlyphs">$25,584</text>
<text x="706.4" y="391.0" font-size="16.4" fill="#333333" textLength="50.8" lengthAdjust="spacingAndGlyphs">$62,892</text>
<line x1="574.9" y1="390.2" x2="616.4" y2="390.2" stroke="#2b2b2b" stroke-width="1.9" stroke-dasharray="1.9 2.50"/>
<line x1="674.9" y1="390.2" x2="703.2" y2="390.2" stroke="#2b2b2b" stroke-width="1.9" stroke-dasharray="1.9 2.50"/>
<text x="468.5" y="411.2" font-size="16.4" fill="#333333" textLength="82.2" lengthAdjust="spacingAndGlyphs">Hourly Wage</text>
<text x="618.4" y="411.2" font-size="16.4" fill="#333333" textLength="44.0" lengthAdjust="spacingAndGlyphs">$12.79</text>
<text x="706.4" y="411.2" font-size="16.4" fill="#333333" textLength="44.2" lengthAdjust="spacingAndGlyphs">$31.45</text>
<line x1="552.9" y1="410.4" x2="616.4" y2="410.4" stroke="#2b2b2b" stroke-width="1.9" stroke-dasharray="1.9 2.50"/>
<line x1="670.5" y1="410.4" x2="703.2" y2="410.4" stroke="#2b2b2b" stroke-width="1.9" stroke-dasharray="1.9 2.50"/>
<path d="M470 415.7V422.6H485.4" fill="none" stroke="#777" stroke-width="0.7"/>
<text x="486.4" y="425.7" font-size="8.2" fill="#5c5c5c" textLength="226.6" lengthAdjust="spacingAndGlyphs">working full time to afford just the Household Survival Budget</text>
<g><clipPath id="c2"><rect x="60" y="482" width="400" height="186"/></clipPath>
<line x1="82.0" y1="576.7" x2="452.0" y2="576.7" stroke="#ececec" stroke-width="1" stroke-dasharray="1 3"/>
<line x1="76.5" y1="576.7" x2="78.0" y2="576.7" stroke="#e0e0e0" stroke-width="1"/>
<line x1="82.0" y1="568.4" x2="452.0" y2="568.4" stroke="#ececec" stroke-width="1" stroke-dasharray="1 3"/>
<line x1="76.5" y1="568.4" x2="78.0" y2="568.4" stroke="#e0e0e0" stroke-width="1"/>
<line x1="82.0" y1="560.2" x2="452.0" y2="560.2" stroke="#ececec" stroke-width="1" stroke-dasharray="1 3"/>
<line x1="76.5" y1="560.2" x2="78.0" y2="560.2" stroke="#e0e0e0" stroke-width="1"/>
<line x1="79.0" y1="552.0" x2="452.0" y2="552.0" stroke="#ececec" stroke-width="1"/>
<line x1="75.0" y1="552.0" x2="78.0" y2="552.0" stroke="#b5b5b5" stroke-width="1"/>
<line x1="82.0" y1="543.8" x2="452.0" y2="543.8" stroke="#ececec" stroke-width="1" stroke-dasharray="1 3"/>
<line x1="76.5" y1="543.8" x2="78.0" y2="543.8" stroke="#e0e0e0" stroke-width="1"/>
<line x1="76.5" y1="535.5" x2="78.0" y2="535.5" stroke="#e0e0e0" stroke-width="1"/>
<line x1="82.0" y1="527.3" x2="452.0" y2="527.3" stroke="#ececec" stroke-width="1" stroke-dasharray="1 3"/>
<line x1="76.5" y1="527.3" x2="78.0" y2="527.3" stroke="#e0e0e0" stroke-width="1"/>
<line x1="79.0" y1="519.1" x2="452.0" y2="519.1" stroke="#ececec" stroke-width="1"/>
<line x1="75.0" y1="519.1" x2="78.0" y2="519.1" stroke="#b5b5b5" stroke-width="1"/>
<line x1="82.0" y1="510.9" x2="452.0" y2="510.9" stroke="#ececec" stroke-width="1" stroke-dasharray="1 3"/>
<line x1="76.5" y1="510.9" x2="78.0" y2="510.9" stroke="#e0e0e0" stroke-width="1"/>
<line x1="82.0" y1="502.6" x2="452.0" y2="502.6" stroke="#ececec" stroke-width="1" stroke-dasharray="1 3"/>
<line x1="76.5" y1="502.6" x2="78.0" y2="502.6" stroke="#e0e0e0" stroke-width="1"/>
<line x1="82.0" y1="494.4" x2="452.0" y2="494.4" stroke="#ececec" stroke-width="1" stroke-dasharray="1 3"/>
<line x1="76.5" y1="494.4" x2="78.0" y2="494.4" stroke="#e0e0e0" stroke-width="1"/>
<line x1="82.0" y1="593.1" x2="452.0" y2="593.1" stroke="#ececec" stroke-width="1" stroke-dasharray="1 3"/>
<line x1="76.5" y1="593.1" x2="78.0" y2="593.1" stroke="#e0e0e0" stroke-width="1"/>
<line x1="82.0" y1="601.4" x2="452.0" y2="601.4" stroke="#ececec" stroke-width="1" stroke-dasharray="1 3"/>
<line x1="76.5" y1="601.4" x2="78.0" y2="601.4" stroke="#e0e0e0" stroke-width="1"/>
<line x1="82.0" y1="609.6" x2="452.0" y2="609.6" stroke="#ececec" stroke-width="1" stroke-dasharray="1 3"/>
<line x1="76.5" y1="609.6" x2="78.0" y2="609.6" stroke="#e0e0e0" stroke-width="1"/>
<line x1="79.0" y1="617.8" x2="452.0" y2="617.8" stroke="#ececec" stroke-width="1"/>
<line x1="75.0" y1="617.8" x2="78.0" y2="617.8" stroke="#b5b5b5" stroke-width="1"/>
<line x1="82.0" y1="626.0" x2="452.0" y2="626.0" stroke="#ececec" stroke-width="1" stroke-dasharray="1 3"/>
<line x1="76.5" y1="626.0" x2="78.0" y2="626.0" stroke="#e0e0e0" stroke-width="1"/>
<line x1="76.5" y1="634.2" x2="78.0" y2="634.2" stroke="#e0e0e0" stroke-width="1"/>
<line x1="82.0" y1="642.5" x2="452.0" y2="642.5" stroke="#ececec" stroke-width="1" stroke-dasharray="1 3"/>
<line x1="76.5" y1="642.5" x2="78.0" y2="642.5" stroke="#e0e0e0" stroke-width="1"/>
<line x1="79.0" y1="650.7" x2="452.0" y2="650.7" stroke="#ececec" stroke-width="1"/>
<line x1="75.0" y1="650.7" x2="78.0" y2="650.7" stroke="#b5b5b5" stroke-width="1"/>
<line x1="82.0" y1="658.9" x2="452.0" y2="658.9" stroke="#ececec" stroke-width="1" stroke-dasharray="1 3"/>
<line x1="76.5" y1="658.9" x2="78.0" y2="658.9" stroke="#e0e0e0" stroke-width="1"/>
<line x1="78.5" y1="484.0" x2="78.5" y2="662.0" stroke="#a8a8a8" stroke-width="1"/>
<g clip-path="url(#c2)">
<rect x="78.4" y="487.8" width="38.8" height="98.1" fill="#d4f0e5"/>
<rect x="79.7" y="489.1" width="36.2" height="97.1" fill="#c9e7db"/>
<rect x="78.4" y="584.9" width="38.8" height="37.8" fill="#fad9d9"/>
<rect x="79.6" y="584.9" width="36.4" height="37.8" fill="#f8d0d0"/>
<rect x="78.4" y="622.7" width="38.8" height="30.1" fill="#ee3e44"/>
<text x="97.8" y="499.5" font-size="8.4" fill="#3c3c3c" font-weight="bold" text-anchor="middle" textLength="12.7" lengthAdjust="spacingAndGlyphs" stroke="#3c3c3c" stroke-width="0.2">59%</text>
<text x="97.8" y="617.6" font-size="9.1" fill="#3c3c3c" font-weight="bold" text-anchor="middle" textLength="14.6" lengthAdjust="spacingAndGlyphs" stroke="#3c3c3c" stroke-width="0.2">23%</text>
<text x="97.8" y="647.3" font-size="8.4" fill="#ffffff" font-weight="bold" text-anchor="middle" textLength="12.7" lengthAdjust="spacingAndGlyphs" stroke="#ffffff" stroke-width="0.12">18%</text>
<text x="97.8" y="583.1" font-size="7" fill="#5a6a64" text-anchor="middle" textLength="14.4" lengthAdjust="spacingAndGlyphs">2010</text>
<rect x="134.0" y="486.2" width="38.8" height="99.7" fill="#d4f0e5"/>
<rect x="135.3" y="487.5" width="36.2" height="98.7" fill="#c9e7db"/>
<rect x="134.0" y="584.9" width="38.8" height="39.5" fill="#fad9d9"/>
<rect x="135.2" y="584.9" width="36.4" height="39.5" fill="#f8d0d0"/>
<rect x="134.0" y="624.4" width="38.8" height="26.8" fill="#ee3e44"/>
<text x="153.4" y="497.9" font-size="8.4" fill="#3c3c3c" font-weight="bold" text-anchor="middle" textLength="12.7" lengthAdjust="spacingAndGlyphs" stroke="#3c3c3c" stroke-width="0.2">60%</text>
<text x="153.4" y="619.3" font-size="9.1" fill="#3c3c3c" font-weight="bold" text-anchor="middle" textLength="14.6" lengthAdjust="spacingAndGlyphs" stroke="#3c3c3c" stroke-width="0.2">24%</text>
<text x="153.4" y="645.7" font-size="8.4" fill="#ffffff" font-weight="bold" text-anchor="middle" textLength="12.7" lengthAdjust="spacingAndGlyphs" stroke="#ffffff" stroke-width="0.12">16%</text>
<text x="153.4" y="583.1" font-size="7" fill="#5a6a64" text-anchor="middle" textLength="14.4" lengthAdjust="spacingAndGlyphs">2012</text>
<rect x="189.6" y="491.1" width="38.8" height="94.8" fill="#d4f0e5"/>
<rect x="190.9" y="492.4" width="36.2" height="93.8" fill="#c9e7db"/>
<rect x="189.6" y="584.9" width="38.8" height="41.1" fill="#fad9d9"/>
<rect x="190.8" y="584.9" width="36.4" height="41.1" fill="#f8d0d0"/>
<rect x="189.6" y="626.0" width="38.8" height="30.1" fill="#ee3e44"/>
<text x="209.0" y="502.8" font-size="8.4" fill="#3c3c3c" font-weight="bold" text-anchor="middle" textLength="12.7" lengthAdjust="spacingAndGlyphs" stroke="#3c3c3c" stroke-width="0.2">57%</text>
<text x="209.0" y="620.9" font-size="9.1" fill="#3c3c3c" font-weight="bold" text-anchor="middle" textLength="14.6" lengthAdjust="spacingAndGlyphs" stroke="#3c3c3c" stroke-width="0.2">25%</text>
<text x="209.0" y="650.6" font-size="8.4" fill="#ffffff" font-weight="bold" text-anchor="middle" textLength="12.7" lengthAdjust="spacingAndGlyphs" stroke="#ffffff" stroke-width="0.12">18%</text>
<text x="209.0" y="583.1" font-size="7" fill="#5a6a64" text-anchor="middle" textLength="14.4" lengthAdjust="spacingAndGlyphs">2014</text>
<rect x="245.2" y="496.1" width="38.8" height="89.8" fill="#d4f0e5"/>
<rect x="246.5" y="497.4" width="36.2" height="88.8" fill="#c9e7db"/>
<rect x="245.2" y="584.9" width="38.8" height="42.8" fill="#fad9d9"/>
<rect x="246.4" y="584.9" width="36.4" height="42.8" fill="#f8d0d0"/>
<rect x="245.2" y="627.7" width="38.8" height="33.4" fill="#ee3e44"/>
<text x="264.6" y="507.8" font-size="8.4" fill="#3c3c3c" font-weight="bold" text-anchor="middle" textLength="12.7" lengthAdjust="spacingAndGlyphs" stroke="#3c3c3c" stroke-width="0.2">54%</text>
<text x="264.6" y="622.6" font-size="9.1" fill="#3c3c3c" font-weight="bold" text-anchor="middle" textLength="14.6" lengthAdjust="spacingAndGlyphs" stroke="#3c3c3c" stroke-width="0.2">26%</text>
<text x="264.6" y="655.6" font-size="8.4" fill="#ffffff" font-weight="bold" text-anchor="middle" textLength="12.7" lengthAdjust="spacingAndGlyphs" stroke="#ffffff" stroke-width="0.12">20%</text>
<text x="264.6" y="583.1" font-size="7" fill="#5a6a64" text-anchor="middle" textLength="14.4" lengthAdjust="spacingAndGlyphs">2016</text>
<rect x="300.8" y="496.1" width="38.8" height="89.8" fill="#d4f0e5"/>
<rect x="302.1" y="497.4" width="36.2" height="88.8" fill="#c9e7db"/>
<rect x="300.8" y="584.9" width="38.8" height="54.3" fill="#fad9d9"/>
<rect x="302.0" y="584.9" width="36.4" height="54.3" fill="#f8d0d0"/>
<rect x="300.8" y="639.2" width="38.8" height="21.9" fill="#ee3e44"/>
<text x="320.2" y="507.8" font-size="8.4" fill="#3c3c3c" font-weight="bold" text-anchor="middle" textLength="12.7" lengthAdjust="spacingAndGlyphs" stroke="#3c3c3c" stroke-width="0.2">54%</text>
<text x="320.2" y="634.1" font-size="9.1" fill="#3c3c3c" font-weight="bold" text-anchor="middle" textLength="14.6" lengthAdjust="spacingAndGlyphs" stroke="#3c3c3c" stroke-width="0.2">33%</text>
<text x="320.2" y="655.6" font-size="8.4" fill="#ffffff" font-weight="bold" text-anchor="middle" textLength="12.7" lengthAdjust="spacingAndGlyphs" stroke="#ffffff" stroke-width="0.12">13%</text>
<text x="320.2" y="583.1" font-size="7" fill="#5a6a64" text-anchor="middle" textLength="14.4" lengthAdjust="spacingAndGlyphs">2018</text>
<rect x="356.4" y="497.7" width="38.8" height="88.2" fill="#d4f0e5"/>
<rect x="357.7" y="499.0" width="36.2" height="87.2" fill="#c9e7db"/>
<rect x="356.4" y="584.9" width="38.8" height="46.1" fill="#fad9d9"/>
<rect x="357.6" y="584.9" width="36.4" height="46.1" fill="#f8d0d0"/>
<rect x="356.4" y="631.0" width="38.8" height="31.8" fill="#ee3e44"/>
<text x="375.8" y="509.4" font-size="8.4" fill="#3c3c3c" font-weight="bold" text-anchor="middle" textLength="12.7" lengthAdjust="spacingAndGlyphs" stroke="#3c3c3c" stroke-width="0.2">53%</text>
<text x="375.8" y="625.9" font-size="9.1" fill="#3c3c3c" font-weight="bold" text-anchor="middle" textLength="14.6" lengthAdjust="spacingAndGlyphs" stroke="#3c3c3c" stroke-width="0.2">28%</text>
<text x="375.8" y="657.2" font-size="8.4" fill="#ffffff" font-weight="bold" text-anchor="middle" textLength="12.7" lengthAdjust="spacingAndGlyphs" stroke="#ffffff" stroke-width="0.12">19%</text>
<text x="375.8" y="583.1" font-size="7" fill="#5a6a64" text-anchor="middle" textLength="14.4" lengthAdjust="spacingAndGlyphs">2019</text>
<rect x="412.0" y="499.4" width="38.8" height="86.5" fill="#d4f0e5"/>
<rect x="413.3" y="500.7" width="36.2" height="85.5" fill="#c9e7db"/>
<rect x="412.0" y="584.9" width="38.8" height="49.4" fill="#fad9d9"/>
<rect x="413.2" y="584.9" width="36.4" height="49.4" fill="#f8d0d0"/>
<rect x="412.0" y="634.2" width="38.8" height="30.1" fill="#ee3e44"/>
<text x="431.4" y="511.1" font-size="8.4" fill="#3c3c3c" font-weight="bold" text-anchor="middle" textLength="12.7" lengthAdjust="spacingAndGlyphs" stroke="#3c3c3c" stroke-width="0.2">52%</text>
<text x="431.4" y="629.1" font-size="9.1" fill="#3c3c3c" font-weight="bold" text-anchor="middle" textLength="14.6" lengthAdjust="spacingAndGlyphs" stroke="#3c3c3c" stroke-width="0.2">30%</text>
<text x="431.4" y="658.9" font-size="8.4" fill="#ffffff" font-weight="bold" text-anchor="middle" textLength="12.7" lengthAdjust="spacingAndGlyphs" stroke="#ffffff" stroke-width="0.12">18%</text>
<text x="431.4" y="583.1" font-size="7" fill="#5a6a64" text-anchor="middle" textLength="14.4" lengthAdjust="spacingAndGlyphs">2021</text>
</g>
<rect x="73.0" y="584.1" width="379.0" height="4.6" fill="#f8d0d0"/>
<rect x="68.0" y="576.6" width="5.0" height="19.6" fill="#f8d0d0"/>
<text x="71.5" y="488.5" font-size="6.6" fill="#555" text-anchor="end" textLength="7.0" lengthAdjust="spacingAndGlyphs">60</text>
<text x="71.5" y="521.4" font-size="6.6" fill="#555" text-anchor="end" textLength="7.0" lengthAdjust="spacingAndGlyphs">40</text>
<text x="71.5" y="554.3" font-size="6.6" fill="#555" text-anchor="end" textLength="7.0" lengthAdjust="spacingAndGlyphs">20</text>
<text x="71.5" y="620.1" font-size="6.6" fill="#555" text-anchor="end" textLength="7.0" lengthAdjust="spacingAndGlyphs">20</text>
<text x="71.5" y="653.0" font-size="6.6" fill="#555" text-anchor="end" textLength="7.0" lengthAdjust="spacingAndGlyphs">40</text>
</g>
<line x1="47.0" y1="669.5" x2="836.0" y2="669.5" stroke="#2a6590" stroke-width="1"/>
<text x="468.5" y="499.1" font-size="18.4" fill="#1d5e8a" font-weight="bold" textLength="171.7" lengthAdjust="spacingAndGlyphs">CALCASIEU PARISH</text>
<text x="468.5" y="521.6" font-size="14.4" fill="#333333" textLength="129.0" lengthAdjust="spacingAndGlyphs">Number of Households:</text>
<text x="602.0" y="521.6" font-size="17" fill="#333333" textLength="46.0" lengthAdjust="spacingAndGlyphs">71,511</text>
<text x="654.3" y="521.6" font-size="11.8" fill="#333333" font-style="italic" textLength="128.9" lengthAdjust="spacingAndGlyphs">(-7% change from 2019)</text>
<text x="468.5" y="541.5" font-size="14.4" fill="#333333" textLength="147.5" lengthAdjust="spacingAndGlyphs">Median Household Income:</text>
<text x="621.6" y="541.5" font-size="17" fill="#333333" textLength="58.1" lengthAdjust="spacingAndGlyphs">$58,020</text>
<rect x="468.5" y="548.1" width="147.3" height="14.5" fill="#f8d0d0"/>
<text x="480.0" y="558.6" font-size="8.2" fill="#6e6263" textLength="119.3" lengthAdjust="spacingAndGlyphs">HOUSEHOLD SURVIVAL BUDGET</text>
<line x1="469.0" y1="565.5" x2="617.0" y2="565.5" stroke="#444" stroke-width="1.1" stroke-dasharray="1.1 1.7"/>
<text x="618.4" y="566.0" font-size="11.8" fill="#333333" textLength="36.4" lengthAdjust="spacingAndGlyphs">SINGLE</text>
<line x1="618.4" y1="567.6" x2="654.8" y2="567.6" stroke="#333333" stroke-width="0.8"/>
<line x1="657.3" y1="565.5" x2="704.0" y2="565.5" stroke="#444" stroke-width="1.1" stroke-dasharray="1.1 2.1"/>
<text x="704.7" y="566.0" font-size="11.8" fill="#333333" textLength="62.3" lengthAdjust="spacingAndGlyphs">FAMILY OF 4</text>
<line x1="704.7" y1="567.6" x2="767.0" y2="567.6" stroke="#333333" stroke-width="0.8"/>
<text x="468.5" y="585.6" font-size="16.4" fill="#333333" textLength="88.3" lengthAdjust="spacingAndGlyphs">Monthly Total</text>
<text x="618.4" y="585.6" font-size="16.4" fill="#333333" textLength="42.3" lengthAdjust="spacingAndGlyphs">$2,171</text>
<text x="706.4" y="585.6" font-size="16.4" fill="#333333" textLength="42.6" lengthAdjust="spacingAndGlyphs">$5,436</text>
<line x1="561.7" y1="584.9" x2="616.4" y2="584.9" stroke="#2b2b2b" stroke-width="1.9" stroke-dasharray="1.9 2.50"/>
<line x1="666.1" y1="584.9" x2="703.2" y2="584.9" stroke="#2b2b2b" stroke-width="1.9" stroke-dasharray="1.9 2.50"/>
<text x="468.5" y="605.4" font-size="16.4" fill="#333333" textLength="102.2" lengthAdjust="spacingAndGlyphs">ANNUAL TOTAL</text>
<text x="618.4" y="605.4" font-size="16.4" fill="#333333" textLength="52.2" lengthAdjust="spacingAndGlyphs">$26,052</text>
<text x="706.4" y="605.4" font-size="16.4" fill="#333333" textLength="50.8" lengthAdjust="spacingAndGlyphs">$65,232</text>
<line x1="574.9" y1="604.6" x2="616.4" y2="604.6" stroke="#2b2b2b" stroke-width="1.9" stroke-dasharray="1.9 2.50"/>
<line x1="674.9" y1="604.6" x2="703.2" y2="604.6" stroke="#2b2b2b" stroke-width="1.9" stroke-dasharray="1.9 2.50"/>
<text x="468.5" y="625.3" font-size="16.4" fill="#333333" textLength="82.2" lengthAdjust="spacingAndGlyphs">Hourly Wage</text>
<text x="618.4" y="625.3" font-size="16.4" fill="#333333" textLength="44.0" lengthAdjust="spacingAndGlyphs">$13.03</text>
<text x="706.4" y="625.3" font-size="16.4" fill="#333333" textLength="44.2" lengthAdjust="spacingAndGlyphs">$32.62</text>
<line x1="552.9" y1="624.5" x2="616.4" y2="624.5" stroke="#2b2b2b" stroke-width="1.9" stroke-dasharray="1.9 2.50"/>
<line x1="666.1" y1="624.5" x2="703.2" y2="624.5" stroke="#2b2b2b" stroke-width="1.9" stroke-dasharray="1.9 2.50"/>
<path d="M470 629.4V636.0H485.4" fill="none" stroke="#777" stroke-width="0.7"/>
<text x="486.4" y="639.1" font-size="8.2" fill="#5c5c5c" textLength="226.6" lengthAdjust="spacingAndGlyphs">working full time to afford just the Household Survival Budget</text>
<g><clipPath id="c3"><rect x="60" y="685" width="400" height="190"/></clipPath>
<line x1="82.0" y1="793.0" x2="452.0" y2="793.0" stroke="#ececec" stroke-width="1" stroke-dasharray="1 3"/>
<line x1="76.5" y1="793.0" x2="78.0" y2="793.0" stroke="#e0e0e0" stroke-width="1"/>
<line x1="82.0" y1="785.3" x2="452.0" y2="785.3" stroke="#ececec" stroke-width="1" stroke-dasharray="1 3"/>
<line x1="76.5" y1="785.3" x2="78.0" y2="785.3" stroke="#e0e0e0" stroke-width="1"/>
<line x1="82.0" y1="777.6" x2="452.0" y2="777.6" stroke="#ececec" stroke-width="1" stroke-dasharray="1 3"/>
<line x1="76.5" y1="777.6" x2="78.0" y2="777.6" stroke="#e0e0e0" stroke-width="1"/>
<line x1="79.0" y1="770.0" x2="452.0" y2="770.0" stroke="#ececec" stroke-width="1"/>
<line x1="75.0" y1="770.0" x2="78.0" y2="770.0" stroke="#b5b5b5" stroke-width="1"/>
<line x1="82.0" y1="762.3" x2="452.0" y2="762.3" stroke="#ececec" stroke-width="1" stroke-dasharray="1 3"/>
<line x1="76.5" y1="762.3" x2="78.0" y2="762.3" stroke="#e0e0e0" stroke-width="1"/>
<line x1="76.5" y1="754.6" x2="78.0" y2="754.6" stroke="#e0e0e0" stroke-width="1"/>
<line x1="82.0" y1="746.9" x2="452.0" y2="746.9" stroke="#ececec" stroke-width="1" stroke-dasharray="1 3"/>
<line x1="76.5" y1="746.9" x2="78.0" y2="746.9" stroke="#e0e0e0" stroke-width="1"/>
<line x1="79.0" y1="739.2" x2="452.0" y2="739.2" stroke="#ececec" stroke-width="1"/>
<line x1="75.0" y1="739.2" x2="78.0" y2="739.2" stroke="#b5b5b5" stroke-width="1"/>
<line x1="82.0" y1="731.5" x2="452.0" y2="731.5" stroke="#ececec" stroke-width="1" stroke-dasharray="1 3"/>
<line x1="76.5" y1="731.5" x2="78.0" y2="731.5" stroke="#e0e0e0" stroke-width="1"/>
<line x1="82.0" y1="723.8" x2="452.0" y2="723.8" stroke="#ececec" stroke-width="1" stroke-dasharray="1 3"/>
<line x1="76.5" y1="723.8" x2="78.0" y2="723.8" stroke="#e0e0e0" stroke-width="1"/>
<line x1="82.0" y1="716.1" x2="452.0" y2="716.1" stroke="#ececec" stroke-width="1" stroke-dasharray="1 3"/>
<line x1="76.5" y1="716.1" x2="78.0" y2="716.1" stroke="#e0e0e0" stroke-width="1"/>
<line x1="79.0" y1="708.5" x2="452.0" y2="708.5" stroke="#ececec" stroke-width="1"/>
<line x1="75.0" y1="708.5" x2="78.0" y2="708.5" stroke="#b5b5b5" stroke-width="1"/>
<line x1="82.0" y1="700.8" x2="452.0" y2="700.8" stroke="#ececec" stroke-width="1" stroke-dasharray="1 3"/>
<line x1="76.5" y1="700.8" x2="78.0" y2="700.8" stroke="#e0e0e0" stroke-width="1"/>
<line x1="82.0" y1="693.1" x2="452.0" y2="693.1" stroke="#ececec" stroke-width="1" stroke-dasharray="1 3"/>
<line x1="76.5" y1="693.1" x2="78.0" y2="693.1" stroke="#e0e0e0" stroke-width="1"/>
<line x1="82.0" y1="808.0" x2="452.0" y2="808.0" stroke="#ececec" stroke-width="1" stroke-dasharray="1 3"/>
<line x1="76.5" y1="808.0" x2="78.0" y2="808.0" stroke="#e0e0e0" stroke-width="1"/>
<line x1="82.0" y1="815.7" x2="452.0" y2="815.7" stroke="#ececec" stroke-width="1" stroke-dasharray="1 3"/>
<line x1="76.5" y1="815.7" x2="78.0" y2="815.7" stroke="#e0e0e0" stroke-width="1"/>
<line x1="82.0" y1="823.4" x2="452.0" y2="823.4" stroke="#ececec" stroke-width="1" stroke-dasharray="1 3"/>
<line x1="76.5" y1="823.4" x2="78.0" y2="823.4" stroke="#e0e0e0" stroke-width="1"/>
<line x1="79.0" y1="831.1" x2="452.0" y2="831.1" stroke="#ececec" stroke-width="1"/>
<line x1="75.0" y1="831.1" x2="78.0" y2="831.1" stroke="#b5b5b5" stroke-width="1"/>
<line x1="82.0" y1="838.7" x2="452.0" y2="838.7" stroke="#ececec" stroke-width="1" stroke-dasharray="1 3"/>
<line x1="76.5" y1="838.7" x2="78.0" y2="838.7" stroke="#e0e0e0" stroke-width="1"/>
<line x1="76.5" y1="846.4" x2="78.0" y2="846.4" stroke="#e0e0e0" stroke-width="1"/>
<line x1="82.0" y1="854.1" x2="452.0" y2="854.1" stroke="#ececec" stroke-width="1" stroke-dasharray="1 3"/>
<line x1="76.5" y1="854.1" x2="78.0" y2="854.1" stroke="#e0e0e0" stroke-width="1"/>
<line x1="79.0" y1="861.8" x2="452.0" y2="861.8" stroke="#ececec" stroke-width="1"/>
<line x1="75.0" y1="861.8" x2="78.0" y2="861.8" stroke="#b5b5b5" stroke-width="1"/>
<line x1="78.5" y1="687.0" x2="78.5" y2="869.0" stroke="#a8a8a8" stroke-width="1"/>
<g clip-path="url(#c3)">
<rect x="78.4" y="691.5" width="38.8" height="110.2" fill="#d4f0e5"/>
<rect x="79.7" y="692.8" width="36.2" height="109.2" fill="#c9e7db"/>
<rect x="78.4" y="800.7" width="38.8" height="27.3" fill="#fad9d9"/>
<rect x="79.6" y="800.7" width="36.4" height="27.3" fill="#f8d0d0"/>
<rect x="78.4" y="828.0" width="38.8" height="17.4" fill="#ee3e44"/>
<text x="97.8" y="703.2" font-size="8.4" fill="#3c3c3c" font-weight="bold" text-anchor="middle" textLength="12.7" lengthAdjust="spacingAndGlyphs" stroke="#3c3c3c" stroke-width="0.2">71%</text>
<text x="97.8" y="822.9" font-size="9.1" fill="#3c3c3c" font-weight="bold" text-anchor="middle" textLength="14.6" lengthAdjust="spacingAndGlyphs" stroke="#3c3c3c" stroke-width="0.2">18%</text>
<text x="97.8" y="839.9" font-size="8.4" fill="#ffffff" font-weight="bold" text-anchor="middle" textLength="12.7" lengthAdjust="spacingAndGlyphs" stroke="#ffffff" stroke-width="0.12">11%</text>
<text x="97.8" y="798.9" font-size="7" fill="#5a6a64" text-anchor="middle" textLength="14.4" lengthAdjust="spacingAndGlyphs">2010</text>
<rect x="134.0" y="688.5" width="38.8" height="113.2" fill="#d4f0e5"/>
<rect x="135.3" y="689.8" width="36.2" height="112.2" fill="#c9e7db"/>
<rect x="134.0" y="800.7" width="38.8" height="25.7" fill="#fad9d9"/>
<rect x="135.2" y="800.7" width="36.4" height="25.7" fill="#f8d0d0"/>
<rect x="134.0" y="826.4" width="38.8" height="15.9" fill="#ee3e44"/>
<text x="153.4" y="700.2" font-size="8.4" fill="#3c3c3c" font-weight="bold" text-anchor="middle" textLength="12.7" lengthAdjust="spacingAndGlyphs" stroke="#3c3c3c" stroke-width="0.2">73%</text>
<text x="153.4" y="821.3" font-size="9.1" fill="#3c3c3c" font-weight="bold" text-anchor="middle" textLength="14.6" lengthAdjust="spacingAndGlyphs" stroke="#3c3c3c" stroke-width="0.2">17%</text>
<text x="153.4" y="836.8" font-size="8.4" fill="#ffffff" font-weight="bold" text-anchor="middle" textLength="12.7" lengthAdjust="spacingAndGlyphs" stroke="#ffffff" stroke-width="0.12">10%</text>
<text x="153.4" y="798.9" font-size="7" fill="#5a6a64" text-anchor="middle" textLength="14.4" lengthAdjust="spacingAndGlyphs">2012</text>
<rect x="189.6" y="686.9" width="38.8" height="114.8" fill="#d4f0e5"/>
<rect x="190.9" y="688.2" width="36.2" height="113.8" fill="#c9e7db"/>
<rect x="189.6" y="800.7" width="38.8" height="25.7" fill="#fad9d9"/>
<rect x="190.8" y="800.7" width="36.4" height="25.7" fill="#f8d0d0"/>
<rect x="189.6" y="826.4" width="38.8" height="14.3" fill="#ee3e44"/>
<text x="209.0" y="698.6" font-size="8.4" fill="#3c3c3c" font-weight="bold" text-anchor="middle" textLength="12.7" lengthAdjust="spacingAndGlyphs" stroke="#3c3c3c" stroke-width="0.2">74%</text>
<text x="209.0" y="821.3" font-size="9.1" fill="#3c3c3c" font-weight="bold" text-anchor="middle" textLength="14.6" lengthAdjust="spacingAndGlyphs" stroke="#3c3c3c" stroke-width="0.2">17%</text>
<text x="209.0" y="835.3" font-size="8.4" fill="#ffffff" font-weight="bold" text-anchor="middle" textLength="8.5" lengthAdjust="spacingAndGlyphs" stroke="#ffffff" stroke-width="0.12">9%</text>
<text x="209.0" y="798.9" font-size="7" fill="#5a6a64" text-anchor="middle" textLength="14.4" lengthAdjust="spacingAndGlyphs">2014</text>
<rect x="245.2" y="688.5" width="38.8" height="113.2" fill="#d4f0e5"/>
<rect x="246.5" y="689.8" width="36.2" height="112.2" fill="#c9e7db"/>
<rect x="245.2" y="800.7" width="38.8" height="25.7" fill="#fad9d9"/>
<rect x="246.4" y="800.7" width="36.4" height="25.7" fill="#f8d0d0"/>
<rect x="245.2" y="826.4" width="38.8" height="15.9" fill="#ee3e44"/>
<text x="264.6" y="700.2" font-size="8.4" fill="#3c3c3c" font-weight="bold" text-anchor="middle" textLength="12.7" lengthAdjust="spacingAndGlyphs" stroke="#3c3c3c" stroke-width="0.2">73%</text>
<text x="264.6" y="821.3" font-size="9.1" fill="#3c3c3c" font-weight="bold" text-anchor="middle" textLength="14.6" lengthAdjust="spacingAndGlyphs" stroke="#3c3c3c" stroke-width="0.2">17%</text>
<text x="264.6" y="836.8" font-size="8.4" fill="#ffffff" font-weight="bold" text-anchor="middle" textLength="12.7" lengthAdjust="spacingAndGlyphs" stroke="#ffffff" stroke-width="0.12">10%</text>
<text x="264.6" y="798.9" font-size="7" fill="#5a6a64" text-anchor="middle" textLength="14.4" lengthAdjust="spacingAndGlyphs">2016</text>
<rect x="300.8" y="711.5" width="38.8" height="90.2" fill="#d4f0e5"/>
<rect x="302.1" y="712.8" width="36.2" height="89.2" fill="#c9e7db"/>
<rect x="300.8" y="800.7" width="38.8" height="47.3" fill="#fad9d9"/>
<rect x="302.0" y="800.7" width="36.4" height="47.3" fill="#f8d0d0"/>
<rect x="300.8" y="848.0" width="38.8" height="17.4" fill="#ee3e44"/>
<text x="320.2" y="723.2" font-size="8.4" fill="#3c3c3c" font-weight="bold" text-anchor="middle" textLength="12.7" lengthAdjust="spacingAndGlyphs" stroke="#3c3c3c" stroke-width="0.2">58%</text>
<text x="320.2" y="842.9" font-size="9.1" fill="#3c3c3c" font-weight="bold" text-anchor="middle" textLength="14.6" lengthAdjust="spacingAndGlyphs" stroke="#3c3c3c" stroke-width="0.2">31%</text>
<text x="320.2" y="859.9" font-size="8.4" fill="#ffffff" font-weight="bold" text-anchor="middle" textLength="12.7" lengthAdjust="spacingAndGlyphs" stroke="#ffffff" stroke-width="0.12">11%</text>
<text x="320.2" y="798.9" font-size="7" fill="#5a6a64" text-anchor="middle" textLength="14.4" lengthAdjust="spacingAndGlyphs">2018</text>
<rect x="356.4" y="716.1" width="38.8" height="85.6" fill="#d4f0e5"/>
<rect x="357.7" y="717.4" width="36.2" height="84.6" fill="#c9e7db"/>
<rect x="356.4" y="800.7" width="38.8" height="51.9" fill="#fad9d9"/>
<rect x="357.6" y="800.7" width="36.4" height="51.9" fill="#f8d0d0"/>
<rect x="356.4" y="852.6" width="38.8" height="17.4" fill="#ee3e44"/>
<text x="375.8" y="727.8" font-size="8.4" fill="#3c3c3c" font-weight="bold" text-anchor="middle" textLength="12.7" lengthAdjust="spacingAndGlyphs" stroke="#3c3c3c" stroke-width="0.2">55%</text>
<text x="375.8" y="847.5" font-size="9.1" fill="#3c3c3c" font-weight="bold" text-anchor="middle" textLength="14.6" lengthAdjust="spacingAndGlyphs" stroke="#3c3c3c" stroke-width="0.2">34%</text>
<text x="375.8" y="864.5" font-size="8.4" fill="#ffffff" font-weight="bold" text-anchor="middle" textLength="12.7" lengthAdjust="spacingAndGlyphs" stroke="#ffffff" stroke-width="0.12">11%</text>
<text x="375.8" y="798.9" font-size="7" fill="#5a6a64" text-anchor="middle" textLength="14.4" lengthAdjust="spacingAndGlyphs">2019</text>
<rect x="412.0" y="705.4" width="38.8" height="96.3" fill="#d4f0e5"/>
<rect x="413.3" y="706.7" width="36.2" height="95.3" fill="#c9e7db"/>
<rect x="412.0" y="800.7" width="38.8" height="48.8" fill="#fad9d9"/>
<rect x="413.2" y="800.7" width="36.4" height="48.8" fill="#f8d0d0"/>
<rect x="412.0" y="849.5" width="38.8" height="9.6" fill="#ee3e44"/>
<text x="431.4" y="717.1" font-size="8.4" fill="#3c3c3c" font-weight="bold" text-anchor="middle" textLength="12.7" lengthAdjust="spacingAndGlyphs" stroke="#3c3c3c" stroke-width="0.2">62%</text>
<text x="431.4" y="844.4" font-size="9.1" fill="#3c3c3c" font-weight="bold" text-anchor="middle" textLength="14.6" lengthAdjust="spacingAndGlyphs" stroke="#3c3c3c" stroke-width="0.2">32%</text>
<text x="431.4" y="853.6" font-size="8.4" fill="#ffffff" font-weight="bold" text-anchor="middle" textLength="8.5" lengthAdjust="spacingAndGlyphs" stroke="#ffffff" stroke-width="0.12">6%</text>
<text x="431.4" y="798.9" font-size="7" fill="#5a6a64" text-anchor="middle" textLength="14.4" lengthAdjust="spacingAndGlyphs">2021</text>
</g>
<rect x="73.0" y="800.2" width="379.0" height="5.0" fill="#f8d0d0"/>
<rect x="68.0" y="792.9" width="5.0" height="19.6" fill="#f8d0d0"/>
<text x="71.5" y="710.8" font-size="6.6" fill="#555" text-anchor="end" textLength="7.0" lengthAdjust="spacingAndGlyphs">60</text>
<text x="71.5" y="741.5" font-size="6.6" fill="#555" text-anchor="end" textLength="7.0" lengthAdjust="spacingAndGlyphs">40</text>
<text x="71.5" y="772.2" font-size="6.6" fill="#555" text-anchor="end" textLength="7.0" lengthAdjust="spacingAndGlyphs">20</text>
<text x="71.5" y="833.4" font-size="6.6" fill="#555" text-anchor="end" textLength="7.0" lengthAdjust="spacingAndGlyphs">20</text>
<text x="71.5" y="864.1" font-size="6.6" fill="#555" text-anchor="end" textLength="7.0" lengthAdjust="spacingAndGlyphs">40</text>
</g>
<line x1="47.0" y1="876.5" x2="836.0" y2="876.5" stroke="#2a6590" stroke-width="1"/>
<text x="468.5" y="702.1" font-size="18.4" fill="#1d5e8a" font-weight="bold" textLength="162.4" lengthAdjust="spacingAndGlyphs">CAMERON PARISH</text>
<text x="468.5" y="724.6" font-size="14.4" fill="#333333" textLength="129.0" lengthAdjust="spacingAndGlyphs">Number of Households:</text>
<text x="602.0" y="724.6" font-size="17" fill="#333333" textLength="38.9" lengthAdjust="spacingAndGlyphs">2,216</text>
<text x="646.8" y="724.6" font-size="11.8" fill="#333333" font-style="italic" textLength="134.8" lengthAdjust="spacingAndGlyphs">(-19% change from 2019)</text>
<text x="468.5" y="744.5" font-size="14.4" fill="#333333" textLength="147.5" lengthAdjust="spacingAndGlyphs">Median Household Income:</text>
<text x="621.6" y="744.5" font-size="17" fill="#333333" textLength="58.1" lengthAdjust="spacingAndGlyphs">$64,525</text>
<rect x="468.5" y="751.1" width="147.3" height="14.5" fill="#f8d0d0"/>
<text x="480.0" y="761.6" font-size="8.2" fill="#6e6263" textLength="119.3" lengthAdjust="spacingAndGlyphs">HOUSEHOLD SURVIVAL BUDGET</text>
<line x1="469.0" y1="768.5" x2="617.0" y2="768.5" stroke="#444" stroke-width="1.1" stroke-dasharray="1.1 1.7"/>
<text x="618.4" y="769.0" font-size="11.8" fill="#333333" textLength="36.4" lengthAdjust="spacingAndGlyphs">SINGLE</text>
<line x1="618.4" y1="770.6" x2="654.8" y2="770.6" stroke="#333333" stroke-width="0.8"/>
<line x1="657.3" y1="768.5" x2="704.0" y2="768.5" stroke="#444" stroke-width="1.1" stroke-dasharray="1.1 2.1"/>
<text x="704.7" y="769.0" font-size="11.8" fill="#333333" textLength="62.3" lengthAdjust="spacingAndGlyphs">FAMILY OF 4</text>
<line x1="704.7" y1="770.6" x2="767.0" y2="770.6" stroke="#333333" stroke-width="0.8"/>
<text x="468.5" y="788.6" font-size="16.4" fill="#333333" textLength="88.3" lengthAdjust="spacingAndGlyphs">Monthly Total</text>
<text x="618.4" y="788.6" font-size="16.4" fill="#333333" textLength="42.3" lengthAdjust="spacingAndGlyphs">$2,171</text>
<text x="706.4" y="788.6" font-size="16.4" fill="#333333" textLength="42.6" lengthAdjust="spacingAndGlyphs">$5,436</text>
<line x1="561.7" y1="787.9" x2="616.4" y2="787.9" stroke="#2b2b2b" stroke-width="1.9" stroke-dasharray="1.9 2.50"/>
<line x1="666.1" y1="787.9" x2="703.2" y2="787.9" stroke="#2b2b2b" stroke-width="1.9" stroke-dasharray="1.9 2.50"/>
<text x="468.5" y="808.4" font-size="16.4" fill="#333333" textLength="102.2" lengthAdjust="spacingAndGlyphs">ANNUAL TOTAL</text>
<text x="618.4" y="808.4" font-size="16.4" fill="#333333" textLength="52.2" lengthAdjust="spacingAndGlyphs">$26,052</text>
<text x="706.4" y="808.4" font-size="16.4" fill="#333333" textLength="50.8" lengthAdjust="spacingAndGlyphs">$65,232</text>
<line x1="574.9" y1="807.6" x2="616.4" y2="807.6" stroke="#2b2b2b" stroke-width="1.9" stroke-dasharray="1.9 2.50"/>
<line x1="674.9" y1="807.6" x2="703.2" y2="807.6" stroke="#2b2b2b" stroke-width="1.9" stroke-dasharray="1.9 2.50"/>
<text x="468.5" y="828.3" font-size="16.4" fill="#333333" textLength="82.2" lengthAdjust="spacingAndGlyphs">Hourly Wage</text>
<text x="618.4" y="828.3" font-size="16.4" fill="#333333" textLength="44.0" lengthAdjust="spacingAndGlyphs">$13.03</text>
<text x="706.4" y="828.3" font-size="16.4" fill="#333333" textLength="44.2" lengthAdjust="spacingAndGlyphs">$32.62</text>
<line x1="552.9" y1="827.5" x2="616.4" y2="827.5" stroke="#2b2b2b" stroke-width="1.9" stroke-dasharray="1.9 2.50"/>
<line x1="666.1" y1="827.5" x2="703.2" y2="827.5" stroke="#2b2b2b" stroke-width="1.9" stroke-dasharray="1.9 2.50"/>
<path d="M470 831.5V839.0H485.4" fill="none" stroke="#777" stroke-width="0.7"/>
<text x="486.4" y="842.1" font-size="8.2" fill="#5c5c5c" textLength="226.6" lengthAdjust="spacingAndGlyphs">working full time to afford just the Household Survival Budget</text>
<g><clipPath id="c4"><rect x="60" y="892" width="400" height="191"/></clipPath>
<line x1="82.0" y1="980.4" x2="452.0" y2="980.4" stroke="#ececec" stroke-width="1" stroke-dasharray="1 3"/>
<line x1="76.5" y1="980.4" x2="78.0" y2="980.4" stroke="#e0e0e0" stroke-width="1"/>
<line x1="82.0" y1="972.4" x2="452.0" y2="972.4" stroke="#ececec" stroke-width="1" stroke-dasharray="1 3"/>
<line x1="76.5" y1="972.4" x2="78.0" y2="972.4" stroke="#e0e0e0" stroke-width="1"/>
<line x1="82.0" y1="964.4" x2="452.0" y2="964.4" stroke="#ececec" stroke-width="1" stroke-dasharray="1 3"/>
<line x1="76.5" y1="964.4" x2="78.0" y2="964.4" stroke="#e0e0e0" stroke-width="1"/>
<line x1="79.0" y1="956.4" x2="452.0" y2="956.4" stroke="#ececec" stroke-width="1"/>
<line x1="75.0" y1="956.4" x2="78.0" y2="956.4" stroke="#b5b5b5" stroke-width="1"/>
<line x1="82.0" y1="948.4" x2="452.0" y2="948.4" stroke="#ececec" stroke-width="1" stroke-dasharray="1 3"/>
<line x1="76.5" y1="948.4" x2="78.0" y2="948.4" stroke="#e0e0e0" stroke-width="1"/>
<line x1="76.5" y1="940.4" x2="78.0" y2="940.4" stroke="#e0e0e0" stroke-width="1"/>
<line x1="82.0" y1="932.4" x2="452.0" y2="932.4" stroke="#ececec" stroke-width="1" stroke-dasharray="1 3"/>
<line x1="76.5" y1="932.4" x2="78.0" y2="932.4" stroke="#e0e0e0" stroke-width="1"/>
<line x1="79.0" y1="924.4" x2="452.0" y2="924.4" stroke="#ececec" stroke-width="1"/>
<line x1="75.0" y1="924.4" x2="78.0" y2="924.4" stroke="#b5b5b5" stroke-width="1"/>
<line x1="82.0" y1="916.4" x2="452.0" y2="916.4" stroke="#ececec" stroke-width="1" stroke-dasharray="1 3"/>
<line x1="76.5" y1="916.4" x2="78.0" y2="916.4" stroke="#e0e0e0" stroke-width="1"/>
<line x1="82.0" y1="908.4" x2="452.0" y2="908.4" stroke="#ececec" stroke-width="1" stroke-dasharray="1 3"/>
<line x1="76.5" y1="908.4" x2="78.0" y2="908.4" stroke="#e0e0e0" stroke-width="1"/>
<line x1="82.0" y1="900.4" x2="452.0" y2="900.4" stroke="#ececec" stroke-width="1" stroke-dasharray="1 3"/>
<line x1="76.5" y1="900.4" x2="78.0" y2="900.4" stroke="#e0e0e0" stroke-width="1"/>
<line x1="82.0" y1="996.4" x2="452.0" y2="996.4" stroke="#ececec" stroke-width="1" stroke-dasharray="1 3"/>
<line x1="76.5" y1="996.4" x2="78.0" y2="996.4" stroke="#e0e0e0" stroke-width="1"/>
<line x1="82.0" y1="1004.4" x2="452.0" y2="1004.4" stroke="#ececec" stroke-width="1" stroke-dasharray="1 3"/>
<line x1="76.5" y1="1004.4" x2="78.0" y2="1004.4" stroke="#e0e0e0" stroke-width="1"/>
<line x1="82.0" y1="1012.4" x2="452.0" y2="1012.4" stroke="#ececec" stroke-width="1" stroke-dasharray="1 3"/>
<line x1="76.5" y1="1012.4" x2="78.0" y2="1012.4" stroke="#e0e0e0" stroke-width="1"/>
<line x1="79.0" y1="1020.4" x2="452.0" y2="1020.4" stroke="#ececec" stroke-width="1"/>
<line x1="75.0" y1="1020.4" x2="78.0" y2="1020.4" stroke="#b5b5b5" stroke-width="1"/>
<line x1="82.0" y1="1028.4" x2="452.0" y2="1028.4" stroke="#ececec" stroke-width="1" stroke-dasharray="1 3"/>
<line x1="76.5" y1="1028.4" x2="78.0" y2="1028.4" stroke="#e0e0e0" stroke-width="1"/>
<line x1="76.5" y1="1036.4" x2="78.0" y2="1036.4" stroke="#e0e0e0" stroke-width="1"/>
<line x1="82.0" y1="1044.4" x2="452.0" y2="1044.4" stroke="#ececec" stroke-width="1" stroke-dasharray="1 3"/>
<line x1="76.5" y1="1044.4" x2="78.0" y2="1044.4" stroke="#e0e0e0" stroke-width="1"/>
<line x1="79.0" y1="1052.4" x2="452.0" y2="1052.4" stroke="#ececec" stroke-width="1"/>
<line x1="75.0" y1="1052.4" x2="78.0" y2="1052.4" stroke="#b5b5b5" stroke-width="1"/>
<line x1="82.0" y1="1060.4" x2="452.0" y2="1060.4" stroke="#ececec" stroke-width="1" stroke-dasharray="1 3"/>
<line x1="76.5" y1="1060.4" x2="78.0" y2="1060.4" stroke="#e0e0e0" stroke-width="1"/>
<line x1="82.0" y1="1068.4" x2="452.0" y2="1068.4" stroke="#ececec" stroke-width="1" stroke-dasharray="1 3"/>
<line x1="76.5" y1="1068.4" x2="78.0" y2="1068.4" stroke="#e0e0e0" stroke-width="1"/>
<line x1="82.0" y1="1076.4" x2="452.0" y2="1076.4" stroke="#ececec" stroke-width="1" stroke-dasharray="1 3"/>
<line x1="76.5" y1="1076.4" x2="78.0" y2="1076.4" stroke="#e0e0e0" stroke-width="1"/>
<line x1="78.5" y1="894.0" x2="78.5" y2="1077.0" stroke="#a8a8a8" stroke-width="1"/>
<g clip-path="url(#c4)">
<rect x="78.4" y="894.0" width="38.8" height="95.4" fill="#d4f0e5"/>
<rect x="79.7" y="895.3" width="36.2" height="94.4" fill="#c9e7db"/>
<rect x="78.4" y="988.4" width="38.8" height="43.2" fill="#fad9d9"/>
<rect x="79.6" y="988.4" width="36.4" height="43.2" fill="#f8d0d0"/>
<rect x="78.4" y="1031.6" width="38.8" height="22.9" fill="#ee3e44"/>
<text x="97.8" y="905.7" font-size="8.4" fill="#3c3c3c" font-weight="bold" text-anchor="middle" textLength="12.7" lengthAdjust="spacingAndGlyphs" stroke="#3c3c3c" stroke-width="0.2">59%</text>
<text x="97.8" y="1026.5" font-size="9.1" fill="#3c3c3c" font-weight="bold" text-anchor="middle" textLength="14.6" lengthAdjust="spacingAndGlyphs" stroke="#3c3c3c" stroke-width="0.2">27%</text>
<text x="97.8" y="1049.0" font-size="8.4" fill="#ffffff" font-weight="bold" text-anchor="middle" textLength="12.7" lengthAdjust="spacingAndGlyphs" stroke="#ffffff" stroke-width="0.12">14%</text>
<text x="97.8" y="986.6" font-size="7" fill="#5a6a64" text-anchor="middle" textLength="14.4" lengthAdjust="spacingAndGlyphs">2010</text>
<rect x="134.0" y="903.6" width="38.8" height="85.8" fill="#d4f0e5"/>
<rect x="135.3" y="904.9" width="36.2" height="84.8" fill="#c9e7db"/>
<rect x="134.0" y="988.4" width="38.8" height="38.4" fill="#fad9d9"/>
<rect x="135.2" y="988.4" width="36.4" height="38.4" fill="#f8d0d0"/>
<rect x="134.0" y="1026.8" width="38.8" height="37.3" fill="#ee3e44"/>
<text x="153.4" y="915.3" font-size="8.4" fill="#3c3c3c" font-weight="bold" text-anchor="middle" textLength="12.7" lengthAdjust="spacingAndGlyphs" stroke="#3c3c3c" stroke-width="0.2">53%</text>
<text x="153.4" y="1021.7" font-size="9.1" fill="#3c3c3c" font-weight="bold" text-anchor="middle" textLength="14.6" lengthAdjust="spacingAndGlyphs" stroke="#3c3c3c" stroke-width="0.2">24%</text>
<text x="153.4" y="1058.6" font-size="8.4" fill="#ffffff" font-weight="bold" text-anchor="middle" textLength="12.7" lengthAdjust="spacingAndGlyphs" stroke="#ffffff" stroke-width="0.12">23%</text>
<text x="153.4" y="986.6" font-size="7" fill="#5a6a64" text-anchor="middle" textLength="14.4" lengthAdjust="spacingAndGlyphs">2012</text>
<rect x="189.6" y="905.2" width="38.8" height="84.2" fill="#d4f0e5"/>
<rect x="190.9" y="906.5" width="36.2" height="83.2" fill="#c9e7db"/>
<rect x="189.6" y="988.4" width="38.8" height="41.6" fill="#fad9d9"/>
<rect x="190.8" y="988.4" width="36.4" height="41.6" fill="#f8d0d0"/>
<rect x="189.6" y="1030.0" width="38.8" height="35.7" fill="#ee3e44"/>
<text x="209.0" y="916.9" font-size="8.4" fill="#3c3c3c" font-weight="bold" text-anchor="middle" textLength="12.7" lengthAdjust="spacingAndGlyphs" stroke="#3c3c3c" stroke-width="0.2">52%</text>
<text x="209.0" y="1024.9" font-size="9.1" fill="#3c3c3c" font-weight="bold" text-anchor="middle" textLength="14.6" lengthAdjust="spacingAndGlyphs" stroke="#3c3c3c" stroke-width="0.2">26%</text>
<text x="209.0" y="1060.2" font-size="8.4" fill="#ffffff" font-weight="bold" text-anchor="middle" textLength="12.7" lengthAdjust="spacingAndGlyphs" stroke="#ffffff" stroke-width="0.12">22%</text>
<text x="209.0" y="986.6" font-size="7" fill="#5a6a64" text-anchor="middle" textLength="14.4" lengthAdjust="spacingAndGlyphs">2014</text>
<rect x="245.2" y="910.0" width="38.8" height="79.4" fill="#d4f0e5"/>
<rect x="246.5" y="911.3" width="36.2" height="78.4" fill="#c9e7db"/>
<rect x="245.2" y="988.4" width="38.8" height="48.0" fill="#fad9d9"/>
<rect x="246.4" y="988.4" width="36.4" height="48.0" fill="#f8d0d0"/>
<rect x="245.2" y="1036.4" width="38.8" height="34.1" fill="#ee3e44"/>
<text x="264.6" y="921.7" font-size="8.4" fill="#3c3c3c" font-weight="bold" text-anchor="middle" textLength="12.7" lengthAdjust="spacingAndGlyphs" stroke="#3c3c3c" stroke-width="0.2">49%</text>
<text x="264.6" y="1031.3" font-size="9.1" fill="#3c3c3c" font-weight="bold" text-anchor="middle" textLength="14.6" lengthAdjust="spacingAndGlyphs" stroke="#3c3c3c" stroke-width="0.2">30%</text>
<text x="264.6" y="1065.0" font-size="8.4" fill="#ffffff" font-weight="bold" text-anchor="middle" textLength="12.7" lengthAdjust="spacingAndGlyphs" stroke="#ffffff" stroke-width="0.12">21%</text>
<text x="264.6" y="986.6" font-size="7" fill="#5a6a64" text-anchor="middle" textLength="14.4" lengthAdjust="spacingAndGlyphs">2016</text>
<rect x="300.8" y="916.4" width="38.8" height="73.0" fill="#d4f0e5"/>
<rect x="302.1" y="917.7" width="36.2" height="72.0" fill="#c9e7db"/>
<rect x="300.8" y="988.4" width="38.8" height="54.4" fill="#fad9d9"/>
<rect x="302.0" y="988.4" width="36.4" height="54.4" fill="#f8d0d0"/>
<rect x="300.8" y="1042.8" width="38.8" height="34.1" fill="#ee3e44"/>
<text x="320.2" y="928.1" font-size="8.4" fill="#3c3c3c" font-weight="bold" text-anchor="middle" textLength="12.7" lengthAdjust="spacingAndGlyphs" stroke="#3c3c3c" stroke-width="0.2">45%</text>
<text x="320.2" y="1037.7" font-size="9.1" fill="#3c3c3c" font-weight="bold" text-anchor="middle" textLength="14.6" lengthAdjust="spacingAndGlyphs" stroke="#3c3c3c" stroke-width="0.2">34%</text>
<text x="320.2" y="1071.4" font-size="8.4" fill="#ffffff" font-weight="bold" text-anchor="middle" textLength="12.7" lengthAdjust="spacingAndGlyphs" stroke="#ffffff" stroke-width="0.12">21%</text>
<text x="320.2" y="986.6" font-size="7" fill="#5a6a64" text-anchor="middle" textLength="14.4" lengthAdjust="spacingAndGlyphs">2018</text>
<rect x="356.4" y="913.2" width="38.8" height="76.2" fill="#d4f0e5"/>
<rect x="357.7" y="914.5" width="36.2" height="75.2" fill="#c9e7db"/>
<rect x="356.4" y="988.4" width="38.8" height="51.2" fill="#fad9d9"/>
<rect x="357.6" y="988.4" width="36.4" height="51.2" fill="#f8d0d0"/>
<rect x="356.4" y="1039.6" width="38.8" height="34.1" fill="#ee3e44"/>
<text x="375.8" y="924.9" font-size="8.4" fill="#3c3c3c" font-weight="bold" text-anchor="middle" textLength="12.7" lengthAdjust="spacingAndGlyphs" stroke="#3c3c3c" stroke-width="0.2">47%</text>
<text x="375.8" y="1034.5" font-size="9.1" fill="#3c3c3c" font-weight="bold" text-anchor="middle" textLength="14.6" lengthAdjust="spacingAndGlyphs" stroke="#3c3c3c" stroke-width="0.2">32%</text>
<text x="375.8" y="1068.2" font-size="8.4" fill="#ffffff" font-weight="bold" text-anchor="middle" textLength="12.7" lengthAdjust="spacingAndGlyphs" stroke="#ffffff" stroke-width="0.12">21%</text>
<text x="375.8" y="986.6" font-size="7" fill="#5a6a64" text-anchor="middle" textLength="14.4" lengthAdjust="spacingAndGlyphs">2019</text>
<rect x="412.0" y="916.4" width="38.8" height="73.0" fill="#d4f0e5"/>
<rect x="413.3" y="917.7" width="36.2" height="72.0" fill="#c9e7db"/>
<rect x="412.0" y="988.4" width="38.8" height="59.2" fill="#fad9d9"/>
<rect x="413.2" y="988.4" width="36.4" height="59.2" fill="#f8d0d0"/>
<rect x="412.0" y="1047.6" width="38.8" height="29.3" fill="#ee3e44"/>
<text x="431.4" y="928.1" font-size="8.4" fill="#3c3c3c" font-weight="bold" text-anchor="middle" textLength="12.7" lengthAdjust="spacingAndGlyphs" stroke="#3c3c3c" stroke-width="0.2">45%</text>
<text x="431.4" y="1042.5" font-size="9.1" fill="#3c3c3c" font-weight="bold" text-anchor="middle" textLength="14.6" lengthAdjust="spacingAndGlyphs" stroke="#3c3c3c" stroke-width="0.2">37%</text>
<text x="431.4" y="1071.4" font-size="8.4" fill="#ffffff" font-weight="bold" text-anchor="middle" textLength="12.7" lengthAdjust="spacingAndGlyphs" stroke="#ffffff" stroke-width="0.12">18%</text>
<text x="431.4" y="986.6" font-size="7" fill="#5a6a64" text-anchor="middle" textLength="14.4" lengthAdjust="spacingAndGlyphs">2021</text>
</g>
<rect x="73.0" y="986.8" width="379.0" height="4.9" fill="#f8d0d0"/>
<rect x="68.0" y="979.5" width="5.0" height="19.6" fill="#f8d0d0"/>
<text x="71.5" y="926.7" font-size="6.6" fill="#555" text-anchor="end" textLength="7.0" lengthAdjust="spacingAndGlyphs">40</text>
<text x="71.5" y="958.7" font-size="6.6" fill="#555" text-anchor="end" textLength="7.0" lengthAdjust="spacingAndGlyphs">20</text>
<text x="71.5" y="1022.7" font-size="6.6" fill="#555" text-anchor="end" textLength="7.0" lengthAdjust="spacingAndGlyphs">20</text>
<text x="71.5" y="1054.7" font-size="6.6" fill="#555" text-anchor="end" textLength="7.0" lengthAdjust="spacingAndGlyphs">40</text>
</g>
<line x1="47.0" y1="1085.5" x2="836.0" y2="1085.5" stroke="#2a6590" stroke-width="1"/>
<text x="468.5" y="907.1" font-size="18.4" fill="#1d5e8a" font-weight="bold" textLength="172.2" lengthAdjust="spacingAndGlyphs">JEFF DAVIS PARISH</text>
<text x="468.5" y="926.5" font-size="14.4" fill="#333333" textLength="129.0" lengthAdjust="spacingAndGlyphs">Number of Households:</text>
<text x="602.5" y="926.5" font-size="17" fill="#333333" textLength="46.6" lengthAdjust="spacingAndGlyphs">11,351</text>
<text x="655.7" y="926.5" font-size="11.8" fill="#333333" font-style="italic" textLength="128.3" lengthAdjust="spacingAndGlyphs">(-3% change from 2019)</text>
<text x="468.5" y="946.4" font-size="14.4" fill="#333333" textLength="147.5" lengthAdjust="spacingAndGlyphs">Median Household Income:</text>
<text x="621.6" y="946.4" font-size="17" fill="#333333" textLength="57.6" lengthAdjust="spacingAndGlyphs">$45,578</text>
<rect x="468.5" y="954.1" width="147.3" height="15.3" fill="#f8d0d0"/>
<text x="480.0" y="964.5" font-size="8.2" fill="#6e6263" textLength="119.3" lengthAdjust="spacingAndGlyphs">HOUSEHOLD SURVIVAL BUDGET</text>
<line x1="469.0" y1="970.1" x2="617.0" y2="970.1" stroke="#444" stroke-width="1.1" stroke-dasharray="1.1 1.7"/>
<text x="618.4" y="970.6" font-size="11.8" fill="#333333" textLength="36.4" lengthAdjust="spacingAndGlyphs">SINGLE</text>
<line x1="618.4" y1="972.2" x2="654.8" y2="972.2" stroke="#333333" stroke-width="0.8"/>
<line x1="657.3" y1="970.1" x2="704.0" y2="970.1" stroke="#444" stroke-width="1.1" stroke-dasharray="1.1 2.1"/>
<text x="704.7" y="970.6" font-size="11.8" fill="#333333" textLength="62.3" lengthAdjust="spacingAndGlyphs">FAMILY OF 4</text>
<line x1="704.7" y1="972.2" x2="767.0" y2="972.2" stroke="#333333" stroke-width="0.8"/>
<text x="468.5" y="990.5" font-size="16.4" fill="#333333" textLength="88.3" lengthAdjust="spacingAndGlyphs">Monthly Total</text>
<text x="618.4" y="990.5" font-size="16.4" fill="#333333" textLength="44.0" lengthAdjust="spacingAndGlyphs">$2,138</text>
<text x="706.4" y="990.5" font-size="16.4" fill="#333333" textLength="42.6" lengthAdjust="spacingAndGlyphs">$5,260</text>
<line x1="561.7" y1="989.8" x2="616.4" y2="989.8" stroke="#2b2b2b" stroke-width="1.9" stroke-dasharray="1.9 2.50"/>
<line x1="666.1" y1="989.8" x2="703.2" y2="989.8" stroke="#2b2b2b" stroke-width="1.9" stroke-dasharray="1.9 2.50"/>
<text x="468.5" y="1010.4" font-size="16.4" fill="#333333" textLength="102.2" lengthAdjust="spacingAndGlyphs">ANNUAL TOTAL</text>
<text x="618.4" y="1010.4" font-size="16.4" fill="#333333" textLength="51.0" lengthAdjust="spacingAndGlyphs">$25,656</text>
<text x="706.4" y="1010.4" font-size="16.4" fill="#333333" textLength="50.1" lengthAdjust="spacingAndGlyphs">$63,120</text>
<line x1="574.9" y1="1009.6" x2="616.4" y2="1009.6" stroke="#2b2b2b" stroke-width="1.9" stroke-dasharray="1.9 2.50"/>
<line x1="674.9" y1="1009.6" x2="703.2" y2="1009.6" stroke="#2b2b2b" stroke-width="1.9" stroke-dasharray="1.9 2.50"/>
<text x="468.5" y="1030.6" font-size="16.4" fill="#333333" textLength="82.2" lengthAdjust="spacingAndGlyphs">Hourly Wage</text>
<text x="618.4" y="1030.6" font-size="16.4" fill="#333333" textLength="44.0" lengthAdjust="spacingAndGlyphs">$12.83</text>
<text x="706.4" y="1030.6" font-size="16.4" fill="#333333" textLength="43.5" lengthAdjust="spacingAndGlyphs">$31.56</text>
<line x1="552.9" y1="1029.8" x2="616.4" y2="1029.8" stroke="#2b2b2b" stroke-width="1.9" stroke-dasharray="1.9 2.50"/>
<line x1="666.1" y1="1029.8" x2="703.2" y2="1029.8" stroke="#2b2b2b" stroke-width="1.9" stroke-dasharray="1.9 2.50"/>
<path d="M470 1035.9V1042.8H485.4" fill="none" stroke="#777" stroke-width="0.7"/>
<text x="486.4" y="1045.8" font-size="8.2" fill="#5c5c5c" textLength="226.6" lengthAdjust="spacingAndGlyphs">working full time to afford just the Household Survival Budget</text>
</svg>
</body></html>
